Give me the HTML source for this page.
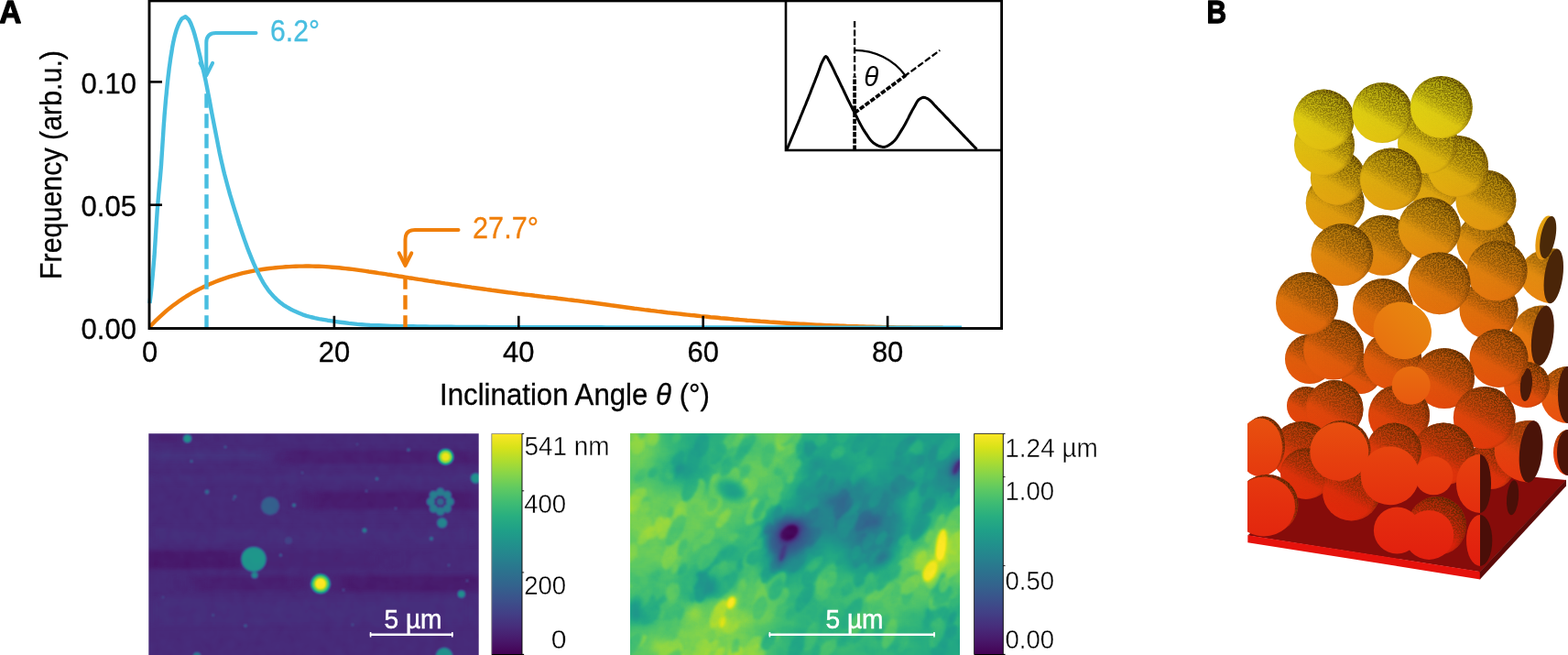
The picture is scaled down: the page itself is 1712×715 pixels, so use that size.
<!DOCTYPE html>
<html><head><meta charset="utf-8"><title>Figure</title>
<style>
html,body{margin:0;padding:0;background:#fff;}
body{width:1712px;height:715px;overflow:hidden;}
svg{display:block;font-family:"Liberation Sans", sans-serif;}
text.k{stroke:#000;stroke-width:0.3px;}
</style></head><body>
<svg width="1712" height="715" viewBox="0 0 1712 715">
<rect x="163.0" y="0.9" width="930.5999999999999" height="357.6" fill="#fff" stroke="none"/>
<path d="M163.5,356.8 L167.1,353.0 L170.7,349.3 L174.4,345.9 L178.0,342.6 L181.6,339.4 L185.2,336.4 L188.9,333.6 L192.5,330.9 L196.1,328.3 L199.7,325.9 L203.4,323.5 L207.0,321.3 L210.6,319.2 L214.2,317.3 L217.9,315.4 L221.5,313.6 L225.1,311.9 L228.7,310.3 L232.4,308.7 L236.0,307.3 L239.6,305.9 L243.2,304.6 L246.8,303.4 L250.5,302.2 L254.1,301.1 L257.7,300.1 L261.3,299.1 L265.0,298.2 L268.6,297.4 L272.2,296.6 L275.8,295.9 L279.5,295.2 L283.1,294.6 L286.7,294.0 L290.3,293.5 L294.0,293.0 L297.6,292.6 L301.2,292.2 L304.8,291.9 L308.5,291.6 L312.1,291.3 L315.7,291.1 L319.3,290.9 L322.9,290.7 L326.6,290.6 L330.2,290.6 L333.8,290.5 L337.4,290.5 L341.1,290.6 L344.7,290.7 L348.3,290.8 L351.9,290.9 L355.6,291.1 L359.2,291.4 L362.8,291.7 L366.4,292.0 L370.1,292.3 L373.7,292.7 L377.3,293.1 L380.9,293.5 L384.6,293.9 L388.2,294.4 L391.8,294.9 L395.4,295.4 L399.1,295.9 L402.7,296.5 L406.3,297.0 L409.9,297.5 L413.5,298.1 L417.2,298.6 L420.8,299.2 L424.4,299.8 L428.0,300.3 L431.7,300.9 L435.3,301.5 L438.9,302.0 L442.5,302.6 L446.2,303.2 L449.8,303.7 L453.4,304.3 L457.0,304.9 L460.7,305.4 L464.3,306.0 L467.9,306.6 L471.5,307.1 L475.2,307.7 L478.8,308.2 L482.4,308.8 L486.0,309.4 L489.6,309.9 L493.3,310.5 L496.9,311.0 L500.5,311.5 L504.1,312.1 L507.8,312.6 L511.4,313.1 L515.0,313.7 L518.6,314.2 L522.3,314.7 L525.9,315.2 L529.5,315.7 L533.1,316.3 L536.8,316.8 L540.4,317.2 L544.0,317.7 L547.6,318.2 L551.3,318.7 L554.9,319.2 L558.5,319.6 L562.1,320.1 L565.7,320.6 L569.4,321.0 L573.0,321.5 L576.6,321.9 L580.2,322.3 L583.9,322.8 L587.5,323.2 L591.1,323.6 L594.7,324.1 L598.4,324.5 L602.0,324.9 L605.6,325.3 L609.2,325.8 L612.9,326.2 L616.5,326.6 L620.1,327.1 L623.7,327.5 L627.4,328.0 L631.0,328.4 L634.6,328.9 L638.2,329.4 L641.8,329.8 L645.5,330.3 L649.1,330.8 L652.7,331.3 L656.3,331.8 L660.0,332.3 L663.6,332.8 L667.2,333.3 L670.8,333.7 L674.5,334.2 L678.1,334.7 L681.7,335.2 L685.3,335.7 L689.0,336.2 L692.6,336.7 L696.2,337.1 L699.8,337.6 L703.5,338.1 L707.1,338.5 L710.7,339.0 L714.3,339.4 L717.9,339.9 L721.6,340.3 L725.2,340.7 L728.8,341.2 L732.4,341.6 L736.1,342.0 L739.7,342.4 L743.3,342.8 L746.9,343.2 L750.6,343.6 L754.2,344.0 L757.8,344.3 L761.4,344.7 L765.1,345.1 L768.7,345.4 L772.3,345.8 L775.9,346.2 L779.6,346.5 L783.2,346.8 L786.8,347.2 L790.4,347.5 L794.0,347.8 L797.7,348.1 L801.3,348.5 L804.9,348.8 L808.5,349.1 L812.2,349.4 L815.8,349.7 L819.4,349.9 L823.0,350.2 L826.7,350.5 L830.3,350.8 L833.9,351.0 L837.5,351.3 L841.2,351.6 L844.8,351.8 L848.4,352.0 L852.0,352.3 L855.7,352.5 L859.3,352.7 L862.9,353.0 L866.5,353.2 L870.2,353.4 L873.8,353.6 L877.4,353.8 L881.0,354.0 L884.6,354.2 L888.3,354.4 L891.9,354.6 L895.5,354.7 L899.1,354.9 L902.8,355.1 L906.4,355.2 L910.0,355.4 L913.6,355.5 L917.3,355.7 L920.9,355.8 L924.5,356.0 L928.1,356.1 L931.8,356.2 L935.4,356.3 L939.0,356.4 L942.6,356.5 L946.3,356.7 L949.9,356.8 L953.5,356.8 L957.1,356.9 L960.7,357.0 L964.4,357.1 L968.0,357.2 L971.6,357.2 L975.2,357.3 L978.9,357.4 L982.5,357.4 L986.1,357.5 L989.7,357.5 L993.4,357.5 L997.0,357.6 L1000.6,357.6 L1004.2,357.6 L1007.9,357.6 L1011.5,357.6 L1015.1,357.6 L1018.7,357.6 L1022.4,357.6 L1026.0,357.6 L1029.6,357.6" fill="none" stroke="#F07F0A" stroke-width="4.4" stroke-linejoin="round"/>
<path d="M163.5,331.0 L164.0,326.4 L164.6,321.7 L165.1,317.0 L165.6,312.4 L166.0,307.7 L166.5,303.1 L166.9,298.4 L167.3,293.8 L167.7,289.1 L168.1,284.4 L168.5,279.8 L168.8,275.1 L169.1,270.4 L169.4,265.8 L169.7,261.1 L170.0,256.4 L170.3,251.7 L170.6,247.1 L170.9,242.4 L171.2,237.7 L171.5,233.1 L171.8,228.4 L172.2,223.7 L172.6,219.1 L173.0,214.4 L173.4,209.7 L173.8,205.1 L174.2,200.4 L174.7,195.7 L175.1,191.1 L175.5,186.4 L175.9,181.8 L176.2,177.1 L176.5,172.4 L176.8,167.7 L177.1,163.1 L177.4,158.4 L177.7,153.7 L178.0,149.1 L178.3,144.4 L178.6,139.7 L178.9,135.1 L179.3,130.4 L179.6,125.7 L180.0,121.1 L180.4,116.4 L180.8,111.7 L181.2,107.1 L181.7,102.4 L182.1,97.7 L182.6,93.1 L183.1,88.4 L183.6,83.8 L184.2,79.1 L184.7,74.5 L185.4,69.8 L186.0,65.2 L186.7,60.6 L187.5,56.0 L188.2,51.3 L189.1,46.7 L190.1,42.1 L191.2,37.6 L192.5,33.1 L194.1,28.7 L196.0,24.4 L198.5,20.4 L202.5,18.2 L206.0,21.3 L208.2,25.4 L209.9,29.8 L211.5,34.3 L212.8,38.7 L214.0,43.2 L215.2,47.8 L216.2,52.3 L217.3,56.9 L218.4,61.5 L219.4,66.0 L220.5,70.6 L221.6,75.1 L222.7,79.7 L223.7,84.3 L224.7,88.8 L225.6,93.4 L226.5,98.0 L227.4,102.6 L228.3,107.2 L229.2,111.8 L230.0,116.4 L230.8,121.0 L231.7,125.6 L232.6,130.2 L233.5,134.8 L234.4,139.4 L235.3,144.0 L236.2,148.6 L237.1,153.2 L238.0,157.8 L238.9,162.4 L239.8,167.0 L240.8,171.5 L241.8,176.1 L242.9,180.7 L243.9,185.2 L245.0,189.8 L246.2,194.3 L247.4,198.8 L248.6,203.3 L249.9,207.9 L251.1,212.4 L252.5,216.8 L253.8,221.3 L255.2,225.8 L256.6,230.3 L258.0,234.7 L259.4,239.2 L260.8,243.7 L262.3,248.1 L263.8,252.6 L265.3,257.0 L266.8,261.4 L268.4,265.8 L270.0,270.2 L271.7,274.6 L273.4,278.9 L275.2,283.3 L277.0,287.6 L278.9,291.8 L280.9,296.1 L283.0,300.3 L285.2,304.5 L287.5,308.6 L290.0,312.6 L292.6,316.3 L295.5,319.9 L298.7,323.5 L302.1,326.9 L305.7,330.0 L309.4,332.8 L313.2,335.2 L317.3,337.5 L321.5,339.6 L325.9,341.5 L330.3,343.3 L334.8,344.8 L339.2,346.0 L343.7,347.1 L348.3,348.1 L353.0,348.9 L357.6,349.7 L362.3,350.4 L366.9,351.1 L371.5,351.7 L376.2,352.3 L380.8,352.9 L385.5,353.4 L390.1,353.9 L394.8,354.3 L399.5,354.6 L404.1,354.9 L408.8,355.1 L413.5,355.3 L418.2,355.5 L422.8,355.7 L427.5,355.9 L432.2,356.0 L436.9,356.1 L441.6,356.2 L446.2,356.3 L450.9,356.3 L455.6,356.4 L460.3,356.5 L465.0,356.5 L469.6,356.6 L474.3,356.7 L479.0,356.7 L483.7,356.8 L488.4,356.8 L493.0,356.8 L497.7,356.9 L502.4,356.9 L507.1,356.9 L511.8,357.0 L516.4,357.0 L521.1,357.0 L525.8,357.0 L530.5,357.0 L535.2,357.1 L539.8,357.1 L544.5,357.1 L549.2,357.1 L553.9,357.1 L558.6,357.1 L563.2,357.2 L567.9,357.2 L572.6,357.2 L577.3,357.2 L582.0,357.2 L586.6,357.2 L591.3,357.2 L596.0,357.2 L600.7,357.2 L605.4,357.3 L610.0,357.3 L614.7,357.3 L619.4,357.3 L624.1,357.3 L628.8,357.3 L633.4,357.3 L638.1,357.3 L642.8,357.3 L647.5,357.3 L652.2,357.3 L656.8,357.3 L661.5,357.4 L666.2,357.4 L670.9,357.4 L675.6,357.4 L680.2,357.4 L684.9,357.4 L689.6,357.4 L694.3,357.4 L699.0,357.4 L703.7,357.4 L708.3,357.4 L713.0,357.4 L717.7,357.4 L722.4,357.4 L727.1,357.4 L731.7,357.4 L736.4,357.4 L741.1,357.4 L745.8,357.4 L750.5,357.4 L755.1,357.5 L759.8,357.5 L764.5,357.5 L769.2,357.5 L773.9,357.5 L778.5,357.5 L783.2,357.5 L787.9,357.5 L792.6,357.5 L797.3,357.5 L801.9,357.5 L806.6,357.5 L811.3,357.5 L816.0,357.5 L820.7,357.5 L825.3,357.5 L830.0,357.5 L834.7,357.5 L839.4,357.5 L844.1,357.5 L848.7,357.5 L853.4,357.5 L858.1,357.5 L862.8,357.5 L867.5,357.5 L872.1,357.5 L876.8,357.5 L881.5,357.5 L886.2,357.5 L890.9,357.6 L895.5,357.6 L900.2,357.6 L904.9,357.6 L909.6,357.6 L914.3,357.6 L918.9,357.6 L923.6,357.6 L928.3,357.6 L933.0,357.6 L937.7,357.6 L942.4,357.6 L947.0,357.6 L951.7,357.6 L956.4,357.6 L961.1,357.6 L965.8,357.6 L970.4,357.6 L975.1,357.6 L979.8,357.6 L984.5,357.6 L989.2,357.6 L993.8,357.6 L998.5,357.6 L1003.2,357.6 L1007.9,357.6 L1012.6,357.6 L1017.2,357.6 L1021.9,357.6 L1026.6,357.6 L1031.3,357.6 L1036.0,357.6 L1040.6,357.6 L1045.3,357.6 L1050.0,357.6" fill="none" stroke="#48BEE0" stroke-width="4.4" stroke-linejoin="round"/>
<path d="M225.5,358 V98" fill="none" stroke="#48BEE0" stroke-width="4.4" stroke-dasharray="15.5,6.5" stroke-dashoffset="1.7"/>
<path d="M442.5,358 V302" fill="none" stroke="#F07F0A" stroke-width="4.4" stroke-dasharray="15.5,6.5" stroke-dashoffset="1.7"/>
<path d="M279.5,36 H235.8 Q225.3,36 225.3,46.5 V81" fill="none" stroke="#48BEE0" stroke-width="4.0" stroke-linecap="round"/><path d="M218.5,68.8 L225.3,82.4 L232.10000000000002,68.8" fill="none" stroke="#48BEE0" stroke-width="4.0" stroke-linecap="round" stroke-linejoin="round"/>
<path d="M500.5,251 H453.0 Q442.5,251 442.5,261.5 V288.5" fill="none" stroke="#F07F0A" stroke-width="4.0" stroke-linecap="round"/><path d="M435.7,276.3 L442.5,289.9 L449.3,276.3" fill="none" stroke="#F07F0A" stroke-width="4.0" stroke-linecap="round" stroke-linejoin="round"/>
<text x="295" y="45" font-size="33" fill="#48BEE0" stroke="#48BEE0" stroke-width="0.3" textLength="54" lengthAdjust="spacingAndGlyphs">6.2°</text>
<text x="516" y="259.5" font-size="33" fill="#F07F0A" stroke="#F07F0A" stroke-width="0.3" textLength="72" lengthAdjust="spacingAndGlyphs">27.7°</text>
<text x="163.5" y="395.3" class="k" font-size="32" text-anchor="middle" textLength="17.2" lengthAdjust="spacingAndGlyphs">0</text>
<path d="M364.9,358 V344.8" stroke="#000" stroke-width="2.6"/>
<text x="364.9" y="395.3" class="k" font-size="32" text-anchor="middle" textLength="34.4" lengthAdjust="spacingAndGlyphs">20</text>
<path d="M566.3,358 V344.8" stroke="#000" stroke-width="2.6"/>
<text x="566.3" y="395.3" class="k" font-size="32" text-anchor="middle" textLength="34.4" lengthAdjust="spacingAndGlyphs">40</text>
<path d="M767.7,358 V344.8" stroke="#000" stroke-width="2.6"/>
<text x="767.7" y="395.3" class="k" font-size="32" text-anchor="middle" textLength="34.4" lengthAdjust="spacingAndGlyphs">60</text>
<path d="M969.1,358 V344.8" stroke="#000" stroke-width="2.6"/>
<text x="969.1" y="395.3" class="k" font-size="32" text-anchor="middle" textLength="34.4" lengthAdjust="spacingAndGlyphs">80</text>
<text x="149" y="370.3" class="k" font-size="32" text-anchor="end" textLength="60.5" lengthAdjust="spacingAndGlyphs">0.00</text>
<path d="M163.5,223.7 H177" stroke="#000" stroke-width="2.6"/>
<text x="149" y="236.0" class="k" font-size="32" text-anchor="end" textLength="60.5" lengthAdjust="spacingAndGlyphs">0.05</text>
<path d="M163.5,89.4 H177" stroke="#000" stroke-width="2.6"/>
<text x="149" y="101.7" class="k" font-size="32" text-anchor="end" textLength="60.5" lengthAdjust="spacingAndGlyphs">0.10</text>
<rect x="163.0" y="0.9" width="930.5999999999999" height="357.6" fill="none" stroke="#000" stroke-width="2.9"/>
<text class="k" x="627.5" y="442" font-size="32.5" text-anchor="middle" textLength="295" lengthAdjust="spacingAndGlyphs">Inclination Angle <tspan font-style="italic">θ</tspan> (°)</text>
<text class="k" transform="translate(66.8,180) rotate(-90)" font-size="32.5" text-anchor="middle" textLength="250" lengthAdjust="spacingAndGlyphs">Frequency (arb.u.)</text>
<text transform="translate(-0.7,24.6) scale(0.94,1)" font-size="35.5" font-weight="bold" stroke="#000" stroke-width="1.3" stroke-linejoin="round">A</text>
<text transform="translate(1317.6,24.6) scale(0.84,1)" font-size="35.5" font-weight="bold" stroke="#000" stroke-width="1.3" stroke-linejoin="round">B</text>
<rect x="858" y="1" width="235.5" height="163" fill="#fff" stroke="#000" stroke-width="2.6"/>
<path d="M859.0,163.6 L860.0,161.2 L861.0,158.9 L862.0,156.5 L863.0,154.1 L864.0,151.7 L865.0,149.3 L866.0,147.0 L867.0,144.6 L868.0,142.2 L869.0,139.8 L870.0,137.4 L871.0,135.1 L872.0,132.7 L873.0,130.3 L873.9,127.9 L874.9,125.5 L875.9,123.1 L876.9,120.7 L877.8,118.3 L878.8,116.0 L879.8,113.6 L880.7,111.2 L881.7,108.8 L882.7,106.4 L883.6,104.0 L884.6,101.6 L885.5,99.2 L886.4,96.8 L887.4,94.4 L888.3,92.0 L889.3,89.6 L890.2,87.2 L891.1,84.8 L892.1,82.4 L893.0,80.0 L893.9,77.5 L894.8,75.1 L895.6,72.6 L896.5,70.2 L897.6,67.9 L898.8,65.4 L900.3,62.7 L901.8,61.5 L903.3,62.9 L904.7,65.6 L906.1,68.0 L907.3,70.3 L908.5,72.6 L909.6,74.9 L910.7,77.2 L911.8,79.6 L912.9,81.9 L914.1,84.2 L915.2,86.5 L916.3,88.9 L917.4,91.2 L918.5,93.5 L919.7,95.8 L920.8,98.2 L921.9,100.5 L923.0,102.8 L924.1,105.2 L925.2,107.5 L926.3,109.8 L927.5,112.1 L928.6,114.4 L929.8,116.7 L930.9,119.0 L932.1,121.3 L933.3,123.6 L934.5,125.9 L935.6,128.2 L936.8,130.6 L938.0,132.9 L939.2,135.2 L940.4,137.4 L941.7,139.7 L943.0,141.9 L944.4,144.1 L945.8,146.2 L947.3,148.4 L948.8,150.7 L950.4,152.8 L952.2,154.7 L954.0,156.3 L956.0,157.6 L958.4,158.8 L960.9,159.8 L963.5,160.4 L965.9,160.4 L968.4,159.6 L970.8,158.2 L973.0,156.7 L974.9,155.3 L976.7,153.5 L978.3,151.6 L979.8,149.4 L981.2,147.2 L982.6,144.9 L984.0,142.6 L985.4,140.4 L986.7,138.2 L988.0,135.9 L989.2,133.7 L990.4,131.4 L991.6,129.1 L992.7,126.8 L993.9,124.5 L995.1,122.2 L996.3,119.9 L997.6,117.7 L998.9,115.4 L1000.2,113.0 L1001.5,110.7 L1003.1,108.8 L1005.2,107.4 L1007.7,106.3 L1010.1,106.5 L1012.5,107.6 L1014.7,109.0 L1016.6,110.6 L1018.4,112.5 L1020.1,114.5 L1021.9,116.4 L1023.7,118.3 L1025.5,120.1 L1027.3,122.0 L1029.1,123.8 L1030.9,125.7 L1032.6,127.6 L1034.4,129.4 L1036.2,131.3 L1038.0,133.2 L1039.8,135.0 L1041.5,136.9 L1043.3,138.8 L1045.1,140.6 L1046.9,142.5 L1048.7,144.4 L1050.4,146.2 L1052.2,148.1 L1054.0,150.0 L1055.8,151.8 L1057.6,153.7 L1059.4,155.5 L1061.1,157.4 L1062.9,159.3 L1064.7,161.1 L1066.5,163.0" fill="none" stroke="#000" stroke-width="3" stroke-linejoin="round"/>
<path d="M933.1,84 V23" stroke="#000" stroke-width="2.3" stroke-dasharray="7,2.5" stroke-dashoffset="3" fill="none"/>
<path d="M933.1,164 V83.5" stroke="#000" stroke-width="3.7" stroke-dasharray="5.5,1.7" fill="none"/>
<path d="M988.5,82.5 L1026.3,54.9" stroke="#000" stroke-width="2.3" stroke-dasharray="7,2.5" stroke-dashoffset="2" fill="none"/>
<path d="M933.1,123.3 L988.9,82.2" stroke="#000" stroke-width="3.7" stroke-dasharray="5.5,1.7" fill="none"/>
<path d="M933.1,54.9 A68.4,68.4 0 0 1 988.5,82.5" stroke="#000" stroke-width="2.2" fill="none"/>
<text x="951.3" y="94" font-size="29.5" font-style="italic" text-anchor="middle">θ</text>
<defs>
<filter id="vf1" filterUnits="userSpaceOnUse" x="132.3" y="443.3" width="420.40000000000003" height="302.7" color-interpolation-filters="sRGB"><feOffset in="SourceGraphic" dx="0" dy="0" result="b"/><feTurbulence type="fractalNoise" baseFrequency="0.08" numOctaves="2" seed="3" result="t"/><feColorMatrix in="t" type="matrix" values="1 0 0 0 0  1 0 0 0 0  1 0 0 0 0  0 0 0 0 1" result="n"/><feComposite in="b" in2="n" operator="arithmetic" k1="0" k2="1" k3="0.03" k4="-0.015" result="h"/><feComponentTransfer in="h"><feFuncR type="table" tableValues="0.267 0.277 0.282 0.283 0.279 0.271 0.259 0.245 0.230 0.214 0.199 0.186 0.173 0.161 0.149 0.138 0.128 0.121 0.121 0.132 0.158 0.197 0.246 0.304 0.369 0.440 0.516 0.596 0.678 0.762 0.846 0.926 0.993"/><feFuncG type="table" tableValues="0.005 0.050 0.095 0.136 0.175 0.214 0.252 0.288 0.322 0.356 0.388 0.419 0.449 0.479 0.508 0.537 0.567 0.596 0.626 0.655 0.684 0.712 0.739 0.765 0.789 0.811 0.831 0.849 0.864 0.876 0.887 0.897 0.906"/><feFuncB type="table" tableValues="0.329 0.376 0.417 0.453 0.483 0.507 0.525 0.537 0.546 0.551 0.555 0.557 0.558 0.558 0.557 0.555 0.551 0.544 0.533 0.520 0.502 0.479 0.452 0.420 0.383 0.341 0.294 0.243 0.190 0.137 0.100 0.104 0.144"/></feComponentTransfer></filter>
<filter id="bl1" x="-50%" y="-50%" width="200%" height="200%" color-interpolation-filters="sRGB"><feGaussianBlur stdDeviation="12 2.6"/></filter>
<filter id="bl1s" x="-50%" y="-50%" width="200%" height="200%" color-interpolation-filters="sRGB"><feGaussianBlur stdDeviation="1.1"/></filter>
<clipPath id="c1"><rect x="162.3" y="473.3" width="360.40000000000003" height="242.7"/></clipPath>
<filter id="vf2" filterUnits="userSpaceOnUse" x="658.4" y="443.3" width="418.9" height="302.7" color-interpolation-filters="sRGB"><feOffset in="SourceGraphic" dx="0" dy="0" result="b"/><feTurbulence type="fractalNoise" baseFrequency="0.05 0.06" numOctaves="3" seed="7" result="t"/><feColorMatrix in="t" type="matrix" values="1 0 0 0 0  1 0 0 0 0  1 0 0 0 0  0 0 0 0 1" result="n"/><feComposite in="b" in2="n" operator="arithmetic" k1="0" k2="1" k3="0.07" k4="-0.035" result="h"/><feComponentTransfer in="h"><feFuncR type="table" tableValues="0.267 0.277 0.282 0.283 0.279 0.271 0.259 0.245 0.230 0.214 0.199 0.186 0.173 0.161 0.149 0.138 0.128 0.121 0.121 0.132 0.158 0.197 0.246 0.304 0.369 0.440 0.516 0.596 0.678 0.762 0.846 0.926 0.993"/><feFuncG type="table" tableValues="0.005 0.050 0.095 0.136 0.175 0.214 0.252 0.288 0.322 0.356 0.388 0.419 0.449 0.479 0.508 0.537 0.567 0.596 0.626 0.655 0.684 0.712 0.739 0.765 0.789 0.811 0.831 0.849 0.864 0.876 0.887 0.897 0.906"/><feFuncB type="table" tableValues="0.329 0.376 0.417 0.453 0.483 0.507 0.525 0.537 0.546 0.551 0.555 0.557 0.558 0.558 0.557 0.555 0.551 0.544 0.533 0.520 0.502 0.479 0.452 0.420 0.383 0.341 0.294 0.243 0.190 0.137 0.100 0.104 0.144"/></feComponentTransfer></filter>
<filter id="bl2" filterUnits="userSpaceOnUse" x="620" y="400" width="500" height="400" color-interpolation-filters="sRGB"><feGaussianBlur stdDeviation="10"/></filter>
<filter id="bl2s" x="-50%" y="-50%" width="200%" height="200%" color-interpolation-filters="sRGB"><feGaussianBlur stdDeviation="1.8"/></filter>
<filter id="bl2m" x="-50%" y="-50%" width="200%" height="200%" color-interpolation-filters="sRGB"><feGaussianBlur stdDeviation="4"/></filter>
<clipPath id="c2"><rect x="688.4" y="473.3" width="358.9" height="242.7"/></clipPath>
</defs>
<g clip-path="url(#c1)"><g filter="url(#vf1)">
<rect x="132.3" y="443.3" width="420.40000000000003" height="302.7" fill="#1e1e1e"/>
<g filter="url(#bl1)">
<rect x="300" y="491.5" width="230" height="15" fill="#161616"/>
<rect x="330" y="536.0" width="200" height="20" fill="#141414"/>
<rect x="150" y="601.0" width="118" height="20" fill="#111111"/>
<rect x="268" y="602.0" width="152" height="18" fill="#1a1a1a"/>
<rect x="210" y="629.0" width="125" height="16" fill="#161616"/>
<rect x="365" y="628.0" width="165" height="18" fill="#131313"/>
<rect x="150" y="474.0" width="60" height="8" fill="#171717"/>
<rect x="150" y="492.0" width="150" height="10" fill="#252525"/>
<rect x="150" y="518.0" width="380" height="8" fill="#222222"/>
<rect x="150" y="577.0" width="380" height="16" fill="#212121"/>
<rect x="150" y="653.0" width="380" height="30" fill="#212121"/>
</g>
<g filter="url(#bl1s)">
<circle cx="486.5" cy="498.8" r="8.5" fill="#c7c7c7"/>
<circle cx="486.5" cy="498.8" r="5.0" fill="#f7f7f7"/>
<circle cx="295" cy="552.3" r="10.0" fill="#4c4c4c"/>
<circle cx="277" cy="610.4" r="13.5" fill="#858585"/>
<circle cx="350" cy="637.3" r="10.5" fill="#b8b8b8"/>
<circle cx="350" cy="637.3" r="6.5" fill="#ffffff"/>
<circle cx="204.6" cy="478.8" r="4.5" fill="#808080"/>
<circle cx="519.5" cy="522" r="5.5" fill="#808080"/>
<circle cx="482.7" cy="570.8" r="5.5" fill="#737373"/>
<circle cx="503.8" cy="648.5" r="4.0" fill="#808080"/>
<circle cx="485" cy="716" r="9.0" fill="#808080"/>
<circle cx="278" cy="627.7" r="3.5" fill="#737373"/>
<circle cx="321" cy="551.5" r="2.0" fill="#666666"/>
<circle cx="398" cy="579" r="2.4" fill="#737373"/>
<circle cx="471" cy="588" r="2.0" fill="#666666"/>
<circle cx="411.5" cy="522.7" r="1.6" fill="#666666"/>
<circle cx="446" cy="491" r="1.6" fill="#666666"/>
<circle cx="226" cy="537" r="2.4" fill="#595959"/>
<circle cx="256.5" cy="542" r="1.6" fill="#595959"/>
<circle cx="246" cy="488" r="1.28" fill="#595959"/>
<circle cx="209" cy="503.5" r="1.6" fill="#595959"/>
<circle cx="306.5" cy="606" r="1.6" fill="#595959"/>
<circle cx="268" cy="683" r="1.6" fill="#595959"/>
<circle cx="232.7" cy="671.5" r="1.28" fill="#4c4c4c"/>
<circle cx="215" cy="716" r="4.0" fill="#666666"/>
<circle cx="255" cy="545" r="1.28" fill="#4c4c4c"/>
<circle cx="315" cy="590" r="4.0" fill="#333333"/>
<circle cx="330" cy="516" r="1.2" fill="#4c4c4c"/>
<circle cx="390" cy="485" r="1.2" fill="#404040"/>
<circle cx="400" cy="536" r="1.2" fill="#4c4c4c"/>
<circle cx="432" cy="555" r="1.2" fill="#4c4c4c"/>
<circle cx="490" cy="617" r="1.2" fill="#4c4c4c"/>
<circle cx="510" cy="634" r="1.2" fill="#4c4c4c"/>
<circle cx="178" cy="652" r="1.2" fill="#404040"/>
<circle cx="385" cy="682" r="1.2" fill="#4c4c4c"/>
<circle cx="375" cy="644" r="1.2" fill="#4c4c4c"/>
<circle cx="491.3" cy="547.7" r="4.6" fill="#6b6b6b"/>
<circle cx="488.2" cy="555.1" r="4.6" fill="#6b6b6b"/>
<circle cx="480.8" cy="558.2" r="4.6" fill="#6b6b6b"/>
<circle cx="473.4" cy="555.1" r="4.6" fill="#6b6b6b"/>
<circle cx="470.3" cy="547.7" r="4.6" fill="#6b6b6b"/>
<circle cx="473.4" cy="540.3" r="4.6" fill="#6b6b6b"/>
<circle cx="480.8" cy="537.2" r="4.6" fill="#6b6b6b"/>
<circle cx="488.2" cy="540.3" r="4.6" fill="#6b6b6b"/>
<circle cx="480.8" cy="547.7" r="4" fill="#545454"/>
</g>
</g></g>
<path d="M403.8,692.7 H494.6" stroke="#fff" stroke-width="2.6" fill="none"/><path d="M404.6,689.9000000000001 V695.5 M493.8,689.9000000000001 V695.5" stroke="#fff" stroke-width="1.6" fill="none"/><text x="451" y="686.2" font-size="30" fill="#fff" stroke="#fff" stroke-width="0.5" text-anchor="middle" textLength="63" lengthAdjust="spacingAndGlyphs">5 µm</text>
<linearGradient id="cb1" x1="0" y1="0" x2="0" y2="1"><stop offset="0.0000" stop-color="#fde725"/><stop offset="0.0625" stop-color="#d8e219"/><stop offset="0.1250" stop-color="#addc30"/><stop offset="0.1875" stop-color="#84d44b"/><stop offset="0.2500" stop-color="#5ec962"/><stop offset="0.3125" stop-color="#3fbc73"/><stop offset="0.3750" stop-color="#28ae80"/><stop offset="0.4375" stop-color="#1fa088"/><stop offset="0.5000" stop-color="#21918c"/><stop offset="0.5625" stop-color="#26828e"/><stop offset="0.6250" stop-color="#2c728e"/><stop offset="0.6875" stop-color="#33638d"/><stop offset="0.7500" stop-color="#3b528b"/><stop offset="0.8125" stop-color="#424086"/><stop offset="0.8750" stop-color="#472d7b"/><stop offset="0.9375" stop-color="#48186a"/><stop offset="1.0000" stop-color="#440154"/></linearGradient><rect x="536.8" y="473.4" width="33.2" height="240.89999999999998" fill="url(#cb1)"/><path d="M536.8,714.3 V473.4 H570.0" fill="none" stroke="#888" stroke-width="0.9"/><path d="M570.0,473.4 V714.3" fill="none" stroke="#000" stroke-width="0.9"/><path d="M536.8,714.5 H572.0" fill="none" stroke="#000" stroke-width="1.2"/>
<path d="M570,473.4 h2.2" stroke="#000" stroke-width="0.9"/>
<path d="M570,535.8 h2.2" stroke="#000" stroke-width="0.9"/>
<path d="M570,624.9 h2.2" stroke="#000" stroke-width="0.9"/>
<path d="M570,714.3 h2.2" stroke="#000" stroke-width="0.9"/>
<text x="572.6" y="496.6" font-size="30.2" text-anchor="start" stroke="#fff" stroke-width="0.4" textLength="93" lengthAdjust="spacingAndGlyphs">541 nm</text>
<text x="572.2" y="559.6" font-size="30.2" text-anchor="start" stroke="#fff" stroke-width="0.4" textLength="46" lengthAdjust="spacingAndGlyphs">400</text>
<text x="572.2" y="648.8" font-size="30.2" text-anchor="start" stroke="#fff" stroke-width="0.4" textLength="46" lengthAdjust="spacingAndGlyphs">200</text>
<text x="618.6" y="708.2" font-size="30.2" text-anchor="end" stroke="#fff" stroke-width="0.4">0</text>
<g clip-path="url(#c2)"><g filter="url(#vf2)">
<rect x="658.4" y="443.3" width="418.9" height="302.7" fill="#999999"/>
<g filter="url(#bl2)">
<rect x="648.4" y="433.3" width="70.4" height="70.8" fill="#cccccc"/>
<rect x="717.8" y="433.3" width="30.9" height="70.8" fill="#a8a8a8"/>
<rect x="747.7" y="433.3" width="30.9" height="70.8" fill="#999999"/>
<rect x="777.6" y="433.3" width="30.9" height="70.8" fill="#a8a8a8"/>
<rect x="807.5" y="433.3" width="30.9" height="70.8" fill="#b8b8b8"/>
<rect x="837.4" y="433.3" width="30.9" height="70.8" fill="#c2c2c2"/>
<rect x="867.3" y="433.3" width="30.9" height="70.8" fill="#999999"/>
<rect x="897.3" y="433.3" width="30.9" height="70.8" fill="#949494"/>
<rect x="927.2" y="433.3" width="30.9" height="70.8" fill="#9e9e9e"/>
<rect x="957.1" y="433.3" width="30.9" height="70.8" fill="#949494"/>
<rect x="987.0" y="433.3" width="30.9" height="70.8" fill="#8f8f8f"/>
<rect x="1016.9" y="433.3" width="70.4" height="70.8" fill="#8f8f8f"/>
<rect x="648.4" y="503.1" width="70.4" height="31.3" fill="#bdbdbd"/>
<rect x="717.8" y="503.1" width="30.9" height="31.3" fill="#9e9e9e"/>
<rect x="747.7" y="503.1" width="30.9" height="31.3" fill="#949494"/>
<rect x="777.6" y="503.1" width="30.9" height="31.3" fill="#b8b8b8"/>
<rect x="807.5" y="503.1" width="30.9" height="31.3" fill="#c2c2c2"/>
<rect x="837.4" y="503.1" width="30.9" height="31.3" fill="#bdbdbd"/>
<rect x="867.3" y="503.1" width="30.9" height="31.3" fill="#949494"/>
<rect x="897.3" y="503.1" width="30.9" height="31.3" fill="#8a8a8a"/>
<rect x="927.2" y="503.1" width="30.9" height="31.3" fill="#949494"/>
<rect x="957.1" y="503.1" width="30.9" height="31.3" fill="#8a8a8a"/>
<rect x="987.0" y="503.1" width="30.9" height="31.3" fill="#8a8a8a"/>
<rect x="1016.9" y="503.1" width="70.4" height="31.3" fill="#737373"/>
<rect x="648.4" y="533.5" width="70.4" height="31.3" fill="#c2c2c2"/>
<rect x="717.8" y="533.5" width="30.9" height="31.3" fill="#c7c7c7"/>
<rect x="747.7" y="533.5" width="30.9" height="31.3" fill="#c7c7c7"/>
<rect x="777.6" y="533.5" width="30.9" height="31.3" fill="#c2c2c2"/>
<rect x="807.5" y="533.5" width="30.9" height="31.3" fill="#bdbdbd"/>
<rect x="837.4" y="533.5" width="30.9" height="31.3" fill="#9e9e9e"/>
<rect x="867.3" y="533.5" width="30.9" height="31.3" fill="#808080"/>
<rect x="897.3" y="533.5" width="30.9" height="31.3" fill="#666666"/>
<rect x="927.2" y="533.5" width="30.9" height="31.3" fill="#757575"/>
<rect x="957.1" y="533.5" width="30.9" height="31.3" fill="#707070"/>
<rect x="987.0" y="533.5" width="30.9" height="31.3" fill="#8f8f8f"/>
<rect x="1016.9" y="533.5" width="70.4" height="31.3" fill="#949494"/>
<rect x="648.4" y="563.8" width="70.4" height="31.3" fill="#c7c7c7"/>
<rect x="717.8" y="563.8" width="30.9" height="31.3" fill="#c7c7c7"/>
<rect x="747.7" y="563.8" width="30.9" height="31.3" fill="#c2c2c2"/>
<rect x="777.6" y="563.8" width="30.9" height="31.3" fill="#b8b8b8"/>
<rect x="807.5" y="563.8" width="30.9" height="31.3" fill="#a8a8a8"/>
<rect x="837.4" y="563.8" width="30.9" height="31.3" fill="#575757"/>
<rect x="867.3" y="563.8" width="30.9" height="31.3" fill="#6b6b6b"/>
<rect x="897.3" y="563.8" width="30.9" height="31.3" fill="#7a7a7a"/>
<rect x="927.2" y="563.8" width="30.9" height="31.3" fill="#5c5c5c"/>
<rect x="957.1" y="563.8" width="30.9" height="31.3" fill="#707070"/>
<rect x="987.0" y="563.8" width="30.9" height="31.3" fill="#9e9e9e"/>
<rect x="1016.9" y="563.8" width="70.4" height="31.3" fill="#c7c7c7"/>
<rect x="648.4" y="594.1" width="70.4" height="31.3" fill="#c2c2c2"/>
<rect x="717.8" y="594.1" width="30.9" height="31.3" fill="#c2c2c2"/>
<rect x="747.7" y="594.1" width="30.9" height="31.3" fill="#adadad"/>
<rect x="777.6" y="594.1" width="30.9" height="31.3" fill="#a3a3a3"/>
<rect x="807.5" y="594.1" width="30.9" height="31.3" fill="#a8a8a8"/>
<rect x="837.4" y="594.1" width="30.9" height="31.3" fill="#6b6b6b"/>
<rect x="867.3" y="594.1" width="30.9" height="31.3" fill="#8f8f8f"/>
<rect x="897.3" y="594.1" width="30.9" height="31.3" fill="#9e9e9e"/>
<rect x="927.2" y="594.1" width="30.9" height="31.3" fill="#707070"/>
<rect x="957.1" y="594.1" width="30.9" height="31.3" fill="#949494"/>
<rect x="987.0" y="594.1" width="30.9" height="31.3" fill="#c7c7c7"/>
<rect x="1016.9" y="594.1" width="70.4" height="31.3" fill="#d6d6d6"/>
<rect x="648.4" y="624.5" width="70.4" height="31.3" fill="#b2b2b2"/>
<rect x="717.8" y="624.5" width="30.9" height="31.3" fill="#adadad"/>
<rect x="747.7" y="624.5" width="30.9" height="31.3" fill="#949494"/>
<rect x="777.6" y="624.5" width="30.9" height="31.3" fill="#a3a3a3"/>
<rect x="807.5" y="624.5" width="30.9" height="31.3" fill="#bdbdbd"/>
<rect x="837.4" y="624.5" width="30.9" height="31.3" fill="#a3a3a3"/>
<rect x="867.3" y="624.5" width="30.9" height="31.3" fill="#a8a8a8"/>
<rect x="897.3" y="624.5" width="30.9" height="31.3" fill="#adadad"/>
<rect x="927.2" y="624.5" width="30.9" height="31.3" fill="#b2b2b2"/>
<rect x="957.1" y="624.5" width="30.9" height="31.3" fill="#bdbdbd"/>
<rect x="987.0" y="624.5" width="30.9" height="31.3" fill="#c2c2c2"/>
<rect x="1016.9" y="624.5" width="70.4" height="31.3" fill="#b2b2b2"/>
<rect x="648.4" y="654.8" width="70.4" height="31.3" fill="#a3a3a3"/>
<rect x="717.8" y="654.8" width="30.9" height="31.3" fill="#b8b8b8"/>
<rect x="747.7" y="654.8" width="30.9" height="31.3" fill="#c7c7c7"/>
<rect x="777.6" y="654.8" width="30.9" height="31.3" fill="#d1d1d1"/>
<rect x="807.5" y="654.8" width="30.9" height="31.3" fill="#c7c7c7"/>
<rect x="837.4" y="654.8" width="30.9" height="31.3" fill="#b2b2b2"/>
<rect x="867.3" y="654.8" width="30.9" height="31.3" fill="#a3a3a3"/>
<rect x="897.3" y="654.8" width="30.9" height="31.3" fill="#a8a8a8"/>
<rect x="927.2" y="654.8" width="30.9" height="31.3" fill="#b2b2b2"/>
<rect x="957.1" y="654.8" width="30.9" height="31.3" fill="#b8b8b8"/>
<rect x="987.0" y="654.8" width="30.9" height="31.3" fill="#adadad"/>
<rect x="1016.9" y="654.8" width="70.4" height="31.3" fill="#9e9e9e"/>
<rect x="648.4" y="685.2" width="70.4" height="70.8" fill="#bdbdbd"/>
<rect x="717.8" y="685.2" width="30.9" height="70.8" fill="#c7c7c7"/>
<rect x="747.7" y="685.2" width="30.9" height="70.8" fill="#cccccc"/>
<rect x="777.6" y="685.2" width="30.9" height="70.8" fill="#cccccc"/>
<rect x="807.5" y="685.2" width="30.9" height="70.8" fill="#c2c2c2"/>
<rect x="837.4" y="685.2" width="30.9" height="70.8" fill="#a8a8a8"/>
<rect x="867.3" y="685.2" width="30.9" height="70.8" fill="#a3a3a3"/>
<rect x="897.3" y="685.2" width="30.9" height="70.8" fill="#a8a8a8"/>
<rect x="927.2" y="685.2" width="30.9" height="70.8" fill="#a8a8a8"/>
<rect x="957.1" y="685.2" width="30.9" height="70.8" fill="#a3a3a3"/>
<rect x="987.0" y="685.2" width="30.9" height="70.8" fill="#9e9e9e"/>
<rect x="1016.9" y="685.2" width="70.4" height="70.8" fill="#999999"/>
</g>
<g filter="url(#bl2s)">
<ellipse cx="919.3" cy="474.6" rx="4.1" ry="6.3" transform="rotate(40 919.3 474.6)" fill="#9f9f9f" opacity="0.8"/>
<ellipse cx="884.6" cy="617.5" rx="4.5" ry="9.0" transform="rotate(11 884.6 617.5)" fill="#909090" opacity="0.8"/>
<ellipse cx="756.8" cy="632.5" rx="6.2" ry="14.6" transform="rotate(10 756.8 632.5)" fill="#a8a8a8" opacity="0.8"/>
<ellipse cx="980.7" cy="644.7" rx="4.5" ry="10.4" transform="rotate(14 980.7 644.7)" fill="#c6c6c6" opacity="0.8"/>
<ellipse cx="823.6" cy="559.0" rx="7.1" ry="16.2" transform="rotate(31 823.6 559.0)" fill="#c4c4c4" opacity="0.8"/>
<ellipse cx="1042.4" cy="564.0" rx="6.3" ry="15.3" transform="rotate(33 1042.4 564.0)" fill="#c0c0c0" opacity="0.8"/>
<ellipse cx="943.3" cy="479.9" rx="7.9" ry="19.2" transform="rotate(45 943.3 479.9)" fill="#8c8c8c" opacity="0.8"/>
<ellipse cx="823.6" cy="582.9" rx="5.1" ry="11.2" transform="rotate(38 823.6 582.9)" fill="#aeaeae" opacity="0.8"/>
<ellipse cx="935.6" cy="486.3" rx="4.6" ry="9.0" transform="rotate(21 935.6 486.3)" fill="#8e8e8e" opacity="0.8"/>
<ellipse cx="1024.8" cy="642.2" rx="7.3" ry="17.0" transform="rotate(19 1024.8 642.2)" fill="#a5a5a5" opacity="0.8"/>
<ellipse cx="695.2" cy="548.0" rx="7.6" ry="15.8" transform="rotate(39 695.2 548.0)" fill="#c8c8c8" opacity="0.8"/>
<ellipse cx="761.8" cy="594.5" rx="4.1" ry="9.5" transform="rotate(32 761.8 594.5)" fill="#c0c0c0" opacity="0.8"/>
<ellipse cx="959.0" cy="576.6" rx="8.0" ry="12.5" transform="rotate(30 959.0 576.6)" fill="#737373" opacity="0.8"/>
<ellipse cx="962.2" cy="685.9" rx="7.1" ry="13.5" transform="rotate(13 962.2 685.9)" fill="#9e9e9e" opacity="0.8"/>
<ellipse cx="824.2" cy="720.0" rx="7.4" ry="10.4" transform="rotate(39 824.2 720.0)" fill="#d6d6d6" opacity="0.8"/>
<ellipse cx="934.9" cy="604.0" rx="5.0" ry="8.8" transform="rotate(16 934.9 604.0)" fill="#898989" opacity="0.8"/>
<ellipse cx="684.6" cy="650.8" rx="6.9" ry="13.9" transform="rotate(14 684.6 650.8)" fill="#c2c2c2" opacity="0.8"/>
<ellipse cx="914.1" cy="681.0" rx="6.9" ry="14.2" transform="rotate(41 914.1 681.0)" fill="#a1a1a1" opacity="0.8"/>
<ellipse cx="879.0" cy="468.4" rx="4.0" ry="7.3" transform="rotate(49 879.0 468.4)" fill="#ababab" opacity="0.8"/>
<ellipse cx="981.0" cy="528.8" rx="7.8" ry="11.7" transform="rotate(29 981.0 528.8)" fill="#717171" opacity="0.8"/>
<ellipse cx="708.9" cy="660.5" rx="5.6" ry="11.6" transform="rotate(21 708.9 660.5)" fill="#a3a3a3" opacity="0.8"/>
<ellipse cx="1005.2" cy="575.2" rx="6.9" ry="15.4" transform="rotate(39 1005.2 575.2)" fill="#8b8b8b" opacity="0.8"/>
<ellipse cx="830.6" cy="638.0" rx="5.8" ry="9.0" transform="rotate(19 830.6 638.0)" fill="#c1c1c1" opacity="0.8"/>
<ellipse cx="808.1" cy="617.0" rx="3.5" ry="7.9" transform="rotate(12 808.1 617.0)" fill="#999999" opacity="0.8"/>
<ellipse cx="708.3" cy="476.2" rx="4.6" ry="10.1" transform="rotate(19 708.3 476.2)" fill="#cccccc" opacity="0.8"/>
<ellipse cx="732.2" cy="704.7" rx="5.6" ry="10.6" transform="rotate(14 732.2 704.7)" fill="#d0d0d0" opacity="0.8"/>
<ellipse cx="926.5" cy="557.8" rx="6.8" ry="15.0" transform="rotate(49 926.5 557.8)" fill="#7a7a7a" opacity="0.8"/>
<ellipse cx="719.7" cy="570.0" rx="4.0" ry="6.5" transform="rotate(31 719.7 570.0)" fill="#d9d9d9" opacity="0.8"/>
<ellipse cx="735.1" cy="514.7" rx="7.7" ry="14.8" transform="rotate(44 735.1 514.7)" fill="#a8a8a8" opacity="0.8"/>
<ellipse cx="886.4" cy="481.1" rx="7.7" ry="18.5" transform="rotate(17 886.4 481.1)" fill="#838383" opacity="0.8"/>
<ellipse cx="862.6" cy="522.3" rx="4.2" ry="5.9" transform="rotate(26 862.6 522.3)" fill="#c0c0c0" opacity="0.8"/>
<ellipse cx="1025.2" cy="666.7" rx="7.8" ry="20.3" transform="rotate(32 1025.2 666.7)" fill="#b0b0b0" opacity="0.8"/>
<ellipse cx="948.4" cy="507.4" rx="3.8" ry="8.6" transform="rotate(12 948.4 507.4)" fill="#9e9e9e" opacity="0.8"/>
<ellipse cx="799.1" cy="481.0" rx="7.3" ry="11.7" transform="rotate(48 799.1 481.0)" fill="#b9b9b9" opacity="0.8"/>
<ellipse cx="713.0" cy="515.3" rx="4.6" ry="7.0" transform="rotate(46 713.0 515.3)" fill="#a4a4a4" opacity="0.8"/>
<ellipse cx="774.2" cy="618.5" rx="6.1" ry="12.4" transform="rotate(47 774.2 618.5)" fill="#999999" opacity="0.8"/>
<ellipse cx="758.8" cy="649.3" rx="4.1" ry="8.9" transform="rotate(28 758.8 649.3)" fill="#9c9c9c" opacity="0.8"/>
<ellipse cx="1026.1" cy="704.8" rx="8.0" ry="20.7" transform="rotate(13 1026.1 704.8)" fill="#8d8d8d" opacity="0.8"/>
<ellipse cx="762.0" cy="535.3" rx="7.5" ry="13.7" transform="rotate(16 762.0 535.3)" fill="#c4c4c4" opacity="0.8"/>
<ellipse cx="991.0" cy="646.1" rx="6.0" ry="15.1" transform="rotate(14 991.0 646.1)" fill="#adadad" opacity="0.8"/>
<ellipse cx="1007.3" cy="535.1" rx="4.2" ry="7.3" transform="rotate(18 1007.3 535.1)" fill="#7a7a7a" opacity="0.8"/>
<ellipse cx="809.9" cy="642.0" rx="4.6" ry="11.5" transform="rotate(12 809.9 642.0)" fill="#c1c1c1" opacity="0.8"/>
<ellipse cx="917.4" cy="677.9" rx="7.0" ry="15.1" transform="rotate(20 917.4 677.9)" fill="#a4a4a4" opacity="0.8"/>
<ellipse cx="956.8" cy="607.7" rx="4.0" ry="10.1" transform="rotate(38 956.8 607.7)" fill="#8e8e8e" opacity="0.8"/>
<ellipse cx="738.4" cy="477.4" rx="4.2" ry="6.5" transform="rotate(22 738.4 477.4)" fill="#b4b4b4" opacity="0.8"/>
<ellipse cx="1015.0" cy="669.5" rx="4.4" ry="7.6" transform="rotate(14 1015.0 669.5)" fill="#949494" opacity="0.8"/>
<ellipse cx="971.2" cy="691.7" rx="6.9" ry="17.3" transform="rotate(19 971.2 691.7)" fill="#bfbfbf" opacity="0.8"/>
<ellipse cx="743.3" cy="670.4" rx="3.6" ry="8.2" transform="rotate(23 743.3 670.4)" fill="#a9a9a9" opacity="0.8"/>
<ellipse cx="1026.8" cy="671.0" rx="7.0" ry="10.8" transform="rotate(45 1026.8 671.0)" fill="#979797" opacity="0.8"/>
<ellipse cx="1000.1" cy="524.5" rx="7.2" ry="17.6" transform="rotate(19 1000.1 524.5)" fill="#959595" opacity="0.8"/>
<ellipse cx="926.9" cy="569.0" rx="7.9" ry="13.6" transform="rotate(36 926.9 569.0)" fill="#808080" opacity="0.8"/>
<ellipse cx="830.8" cy="716.2" rx="4.0" ry="10.3" transform="rotate(17 830.8 716.2)" fill="#d0d0d0" opacity="0.8"/>
<ellipse cx="1038.5" cy="535.4" rx="5.1" ry="11.8" transform="rotate(27 1038.5 535.4)" fill="#767676" opacity="0.8"/>
<ellipse cx="1046.5" cy="497.5" rx="6.7" ry="9.4" transform="rotate(47 1046.5 497.5)" fill="#7d7d7d" opacity="0.8"/>
<ellipse cx="882.0" cy="650.1" rx="3.8" ry="8.4" transform="rotate(23 882.0 650.1)" fill="#9c9c9c" opacity="0.8"/>
<ellipse cx="799.2" cy="682.6" rx="6.5" ry="11.6" transform="rotate(38 799.2 682.6)" fill="#dadada" opacity="0.8"/>
<ellipse cx="887.9" cy="516.8" rx="7.6" ry="16.2" transform="rotate(22 887.9 516.8)" fill="#a3a3a3" opacity="0.8"/>
<ellipse cx="885.5" cy="468.4" rx="7.0" ry="15.0" transform="rotate(23 885.5 468.4)" fill="#a1a1a1" opacity="0.8"/>
<ellipse cx="846.4" cy="639.0" rx="7.8" ry="17.9" transform="rotate(36 846.4 639.0)" fill="#b9b9b9" opacity="0.8"/>
<ellipse cx="788.1" cy="636.1" rx="7.8" ry="13.1" transform="rotate(22 788.1 636.1)" fill="#a8a8a8" opacity="0.8"/>
<ellipse cx="980.9" cy="505.5" rx="5.6" ry="13.6" transform="rotate(13 980.9 505.5)" fill="#848484" opacity="0.8"/>
<ellipse cx="836.3" cy="627.4" rx="5.2" ry="9.8" transform="rotate(16 836.3 627.4)" fill="#919191" opacity="0.8"/>
<ellipse cx="937.1" cy="693.9" rx="4.5" ry="10.6" transform="rotate(38 937.1 693.9)" fill="#989898" opacity="0.8"/>
<ellipse cx="854.8" cy="609.2" rx="7.1" ry="15.6" transform="rotate(50 854.8 609.2)" fill="#606060" opacity="0.8"/>
<ellipse cx="903.1" cy="708.4" rx="6.7" ry="13.5" transform="rotate(43 903.1 708.4)" fill="#b6b6b6" opacity="0.8"/>
<ellipse cx="885.5" cy="695.0" rx="6.9" ry="16.6" transform="rotate(21 885.5 695.0)" fill="#b0b0b0" opacity="0.8"/>
<ellipse cx="970.3" cy="590.8" rx="3.8" ry="6.7" transform="rotate(21 970.3 590.8)" fill="#727272" opacity="0.8"/>
<ellipse cx="801.3" cy="604.8" rx="5.2" ry="8.3" transform="rotate(19 801.3 604.8)" fill="#9f9f9f" opacity="0.8"/>
<ellipse cx="836.4" cy="551.9" rx="4.4" ry="8.4" transform="rotate(46 836.4 551.9)" fill="#b7b7b7" opacity="0.8"/>
<ellipse cx="898.9" cy="644.1" rx="7.7" ry="13.6" transform="rotate(26 898.9 644.1)" fill="#b7b7b7" opacity="0.8"/>
<ellipse cx="1012.3" cy="679.5" rx="4.7" ry="9.4" transform="rotate(26 1012.3 679.5)" fill="#989898" opacity="0.8"/>
<ellipse cx="930.1" cy="670.0" rx="7.6" ry="19.7" transform="rotate(31 930.1 670.0)" fill="#9b9b9b" opacity="0.8"/>
<ellipse cx="1018.0" cy="617.9" rx="5.4" ry="13.2" transform="rotate(17 1018.0 617.9)" fill="#c3c3c3" opacity="0.8"/>
<ellipse cx="779.4" cy="551.0" rx="6.9" ry="12.8" transform="rotate(40 779.4 551.0)" fill="#cecece" opacity="0.8"/>
<ellipse cx="990.3" cy="532.0" rx="6.9" ry="10.0" transform="rotate(48 990.3 532.0)" fill="#7a7a7a" opacity="0.8"/>
<ellipse cx="766.1" cy="485.6" rx="7.8" ry="12.7" transform="rotate(11 766.1 485.6)" fill="#898989" opacity="0.8"/>
<ellipse cx="739.6" cy="500.2" rx="4.5" ry="10.0" transform="rotate(41 739.6 500.2)" fill="#939393" opacity="0.8"/>
<ellipse cx="745.3" cy="621.8" rx="4.2" ry="7.5" transform="rotate(33 745.3 621.8)" fill="#9f9f9f" opacity="0.8"/>
<ellipse cx="1026.1" cy="613.8" rx="6.7" ry="10.0" transform="rotate(38 1026.1 613.8)" fill="#dbdbdb" opacity="0.8"/>
<ellipse cx="914.8" cy="494.1" rx="6.2" ry="9.6" transform="rotate(49 914.8 494.1)" fill="#a6a6a6" opacity="0.8"/>
<ellipse cx="972.1" cy="556.0" rx="3.8" ry="8.3" transform="rotate(11 972.1 556.0)" fill="#808080" opacity="0.8"/>
<ellipse cx="838.4" cy="592.2" rx="6.4" ry="15.2" transform="rotate(38 838.4 592.2)" fill="#989898" opacity="0.8"/>
<ellipse cx="844.1" cy="653.7" rx="7.6" ry="17.8" transform="rotate(29 844.1 653.7)" fill="#c0c0c0" opacity="0.8"/>
<ellipse cx="988.0" cy="618.0" rx="7.2" ry="10.9" transform="rotate(45 988.0 618.0)" fill="#c6c6c6" opacity="0.8"/>
<ellipse cx="773.4" cy="585.7" rx="5.7" ry="10.2" transform="rotate(30 773.4 585.7)" fill="#c5c5c5" opacity="0.8"/>
<ellipse cx="814.3" cy="533.6" rx="6.7" ry="11.5" transform="rotate(10 814.3 533.6)" fill="#d2d2d2" opacity="0.8"/>
<ellipse cx="1033.1" cy="489.9" rx="6.9" ry="15.4" transform="rotate(36 1033.1 489.9)" fill="#9b9b9b" opacity="0.8"/>
<ellipse cx="864.5" cy="668.7" rx="5.3" ry="9.0" transform="rotate(37 864.5 668.7)" fill="#a2a2a2" opacity="0.8"/>
<ellipse cx="819.5" cy="608.2" rx="6.9" ry="12.3" transform="rotate(38 819.5 608.2)" fill="#b4b4b4" opacity="0.8"/>
<ellipse cx="783.3" cy="531.8" rx="4.9" ry="11.3" transform="rotate(48 783.3 531.8)" fill="#a5a5a5" opacity="0.8"/>
<ellipse cx="938.0" cy="516.7" rx="6.2" ry="14.2" transform="rotate(34 938.0 516.7)" fill="#9d9d9d" opacity="0.8"/>
<ellipse cx="1045.1" cy="678.7" rx="4.3" ry="6.1" transform="rotate(31 1045.1 678.7)" fill="#a6a6a6" opacity="0.8"/>
<ellipse cx="784.6" cy="714.5" rx="4.1" ry="9.9" transform="rotate(30 784.6 714.5)" fill="#dddddd" opacity="0.8"/>
<ellipse cx="1005.3" cy="613.4" rx="5.0" ry="12.9" transform="rotate(20 1005.3 613.4)" fill="#d4d4d4" opacity="0.8"/>
<ellipse cx="1001.3" cy="497.1" rx="3.8" ry="8.3" transform="rotate(12 1001.3 497.1)" fill="#828282" opacity="0.8"/>
<ellipse cx="738.4" cy="610.5" rx="4.6" ry="9.6" transform="rotate(27 738.4 610.5)" fill="#c4c4c4" opacity="0.8"/>
<ellipse cx="903.3" cy="624.6" rx="5.5" ry="13.4" transform="rotate(50 903.3 624.6)" fill="#afafaf" opacity="0.8"/>
<ellipse cx="796.1" cy="625.2" rx="4.4" ry="7.3" transform="rotate(36 796.1 625.2)" fill="#909090" opacity="0.8"/>
<ellipse cx="741.3" cy="512.2" rx="5.3" ry="11.9" transform="rotate(29 741.3 512.2)" fill="#969696" opacity="0.8"/>
<ellipse cx="695.4" cy="541.1" rx="5.5" ry="12.3" transform="rotate(47 695.4 541.1)" fill="#d1d1d1" opacity="0.8"/>
<ellipse cx="974.0" cy="626.3" rx="6.0" ry="13.0" transform="rotate(46 974.0 626.3)" fill="#9f9f9f" opacity="0.8"/>
<ellipse cx="988.3" cy="486.3" rx="6.2" ry="14.8" transform="rotate(47 988.3 486.3)" fill="#7f7f7f" opacity="0.8"/>
<ellipse cx="845.4" cy="586.7" rx="7.7" ry="15.5" transform="rotate(30 845.4 586.7)" fill="#7f7f7f" opacity="0.8"/>
<ellipse cx="713.1" cy="478.4" rx="6.2" ry="8.9" transform="rotate(19 713.1 478.4)" fill="#d2d2d2" opacity="0.8"/>
<ellipse cx="932.1" cy="685.8" rx="6.5" ry="11.2" transform="rotate(12 932.1 685.8)" fill="#969696" opacity="0.8"/>
<ellipse cx="962.4" cy="587.2" rx="4.3" ry="9.1" transform="rotate(35 962.4 587.2)" fill="#858585" opacity="0.8"/>
<ellipse cx="864.8" cy="491.4" rx="4.9" ry="7.5" transform="rotate(16 864.8 491.4)" fill="#bdbdbd" opacity="0.8"/>
<ellipse cx="835.3" cy="593.5" rx="6.0" ry="11.6" transform="rotate(23 835.3 593.5)" fill="#9d9d9d" opacity="0.8"/>
<ellipse cx="802.7" cy="713.5" rx="7.2" ry="10.1" transform="rotate(45 802.7 713.5)" fill="#dcdcdc" opacity="0.8"/>
<ellipse cx="853.8" cy="482.0" rx="5.7" ry="11.1" transform="rotate(12 853.8 482.0)" fill="#d0d0d0" opacity="0.8"/>
<ellipse cx="781.9" cy="501.4" rx="6.6" ry="10.3" transform="rotate(49 781.9 501.4)" fill="#b2b2b2" opacity="0.8"/>
<ellipse cx="908.0" cy="528.8" rx="3.6" ry="6.7" transform="rotate(19 908.0 528.8)" fill="#767676" opacity="0.8"/>
<ellipse cx="993.8" cy="497.0" rx="4.2" ry="10.6" transform="rotate(22 993.8 497.0)" fill="#7f7f7f" opacity="0.8"/>
<ellipse cx="943.6" cy="573.3" rx="4.6" ry="9.5" transform="rotate(25 943.6 573.3)" fill="#777777" opacity="0.8"/>
<ellipse cx="1023.5" cy="596.7" rx="4.7" ry="11.1" transform="rotate(27 1023.5 596.7)" fill="#b4b4b4" opacity="0.8"/>
<ellipse cx="1028.0" cy="596.6" rx="4.8" ry="10.2" transform="rotate(50 1028.0 596.6)" fill="#c2c2c2" opacity="0.8"/>
<ellipse cx="864.0" cy="505.9" rx="6.0" ry="12.3" transform="rotate(28 864.0 505.9)" fill="#bbbbbb" opacity="0.8"/>
<ellipse cx="802.1" cy="516.0" rx="4.6" ry="10.6" transform="rotate(12 802.1 516.0)" fill="#ababab" opacity="0.8"/>
<ellipse cx="958.1" cy="646.5" rx="6.5" ry="15.5" transform="rotate(49 958.1 646.5)" fill="#c3c3c3" opacity="0.8"/>
<ellipse cx="866.1" cy="477.7" rx="7.4" ry="14.3" transform="rotate(31 866.1 477.7)" fill="#c3c3c3" opacity="0.8"/>
<ellipse cx="852.0" cy="650.9" rx="7.9" ry="11.7" transform="rotate(41 852.0 650.9)" fill="#bdbdbd" opacity="0.8"/>
<ellipse cx="781.2" cy="625.8" rx="7.3" ry="17.8" transform="rotate(44 781.2 625.8)" fill="#b2b2b2" opacity="0.8"/>
<ellipse cx="823.6" cy="548.3" rx="3.7" ry="5.4" transform="rotate(35 823.6 548.3)" fill="#d0d0d0" opacity="0.8"/>
<ellipse cx="1023.1" cy="720.3" rx="3.9" ry="8.5" transform="rotate(45 1023.1 720.3)" fill="#8e8e8e" opacity="0.8"/>
<ellipse cx="847.1" cy="643.7" rx="7.1" ry="12.4" transform="rotate(25 847.1 643.7)" fill="#a4a4a4" opacity="0.8"/>
<ellipse cx="737.1" cy="602.5" rx="3.9" ry="9.4" transform="rotate(35 737.1 602.5)" fill="#b9b9b9" opacity="0.8"/>
<ellipse cx="772.2" cy="699.0" rx="6.4" ry="12.4" transform="rotate(37 772.2 699.0)" fill="#c3c3c3" opacity="0.8"/>
<ellipse cx="1015.0" cy="585.9" rx="4.2" ry="8.1" transform="rotate(24 1015.0 585.9)" fill="#c6c6c6" opacity="0.8"/>
<ellipse cx="900.2" cy="629.8" rx="5.6" ry="9.8" transform="rotate(50 900.2 629.8)" fill="#b5b5b5" opacity="0.8"/>
<ellipse cx="998.2" cy="495.3" rx="6.1" ry="15.8" transform="rotate(22 998.2 495.3)" fill="#9d9d9d" opacity="0.8"/>
<ellipse cx="1044.2" cy="634.6" rx="7.4" ry="17.3" transform="rotate(49 1044.2 634.6)" fill="#bebebe" opacity="0.8"/>
<ellipse cx="1019.3" cy="656.6" rx="4.5" ry="10.7" transform="rotate(19 1019.3 656.6)" fill="#c0c0c0" opacity="0.8"/>
<ellipse cx="753.5" cy="531.6" rx="7.6" ry="16.5" transform="rotate(22 753.5 531.6)" fill="#9c9c9c" opacity="0.8"/>
<ellipse cx="846.0" cy="614.8" rx="4.8" ry="11.1" transform="rotate(17 846.0 614.8)" fill="#7a7a7a" opacity="0.8"/>
<ellipse cx="732.2" cy="604.6" rx="7.6" ry="18.2" transform="rotate(20 732.2 604.6)" fill="#d1d1d1" opacity="0.8"/>
<ellipse cx="987.6" cy="590.1" rx="5.0" ry="7.7" transform="rotate(49 987.6 590.1)" fill="#a6a6a6" opacity="0.8"/>
<ellipse cx="735.3" cy="712.5" rx="7.1" ry="13.1" transform="rotate(42 735.3 712.5)" fill="#dcdcdc" opacity="0.8"/>
<ellipse cx="688.5" cy="603.9" rx="6.9" ry="11.8" transform="rotate(25 688.5 603.9)" fill="#cecece" opacity="0.8"/>
<ellipse cx="919.0" cy="562.2" rx="6.3" ry="15.9" transform="rotate(23 919.0 562.2)" fill="#616161" opacity="0.8"/>
<ellipse cx="908.5" cy="632.0" rx="4.9" ry="9.2" transform="rotate(16 908.5 632.0)" fill="#bcbcbc" opacity="0.8"/>
<ellipse cx="1032.5" cy="545.2" rx="4.6" ry="9.3" transform="rotate(26 1032.5 545.2)" fill="#979797" opacity="0.8"/>
<ellipse cx="820.3" cy="708.2" rx="6.8" ry="16.7" transform="rotate(36 820.3 708.2)" fill="#d2d2d2" opacity="0.8"/>
<ellipse cx="990.9" cy="623.9" rx="5.2" ry="10.0" transform="rotate(48 990.9 623.9)" fill="#bfbfbf" opacity="0.8"/>
<ellipse cx="999.0" cy="493.4" rx="7.9" ry="14.5" transform="rotate(26 999.0 493.4)" fill="#9d9d9d" opacity="0.8"/>
<ellipse cx="753.4" cy="499.2" rx="4.5" ry="9.7" transform="rotate(49 753.4 499.2)" fill="#a2a2a2" opacity="0.8"/>
<ellipse cx="702.1" cy="552.6" rx="4.4" ry="10.6" transform="rotate(32 702.1 552.6)" fill="#b0b0b0" opacity="0.8"/>
<ellipse cx="899.7" cy="673.8" rx="4.2" ry="10.3" transform="rotate(10 899.7 673.8)" fill="#9c9c9c" opacity="0.8"/>
<ellipse cx="1000.1" cy="504.9" rx="7.1" ry="10.9" transform="rotate(45 1000.1 504.9)" fill="#7e7e7e" opacity="0.8"/>
<ellipse cx="732.0" cy="558.8" rx="3.6" ry="6.1" transform="rotate(15 732.0 558.8)" fill="#b8b8b8" opacity="0.8"/>
<ellipse cx="838.7" cy="497.0" rx="7.0" ry="14.1" transform="rotate(14 838.7 497.0)" fill="#b1b1b1" opacity="0.8"/>
<ellipse cx="869.3" cy="707.2" rx="7.6" ry="16.6" transform="rotate(22 869.3 707.2)" fill="#949494" opacity="0.8"/>
<ellipse cx="920.7" cy="476.2" rx="5.4" ry="8.3" transform="rotate(38 920.7 476.2)" fill="#aaaaaa" opacity="0.8"/>
<ellipse cx="847.0" cy="695.5" rx="3.8" ry="6.6" transform="rotate(35 847.0 695.5)" fill="#bebebe" opacity="0.8"/>
<ellipse cx="885.7" cy="550.5" rx="6.2" ry="9.5" transform="rotate(38 885.7 550.5)" fill="#898989" opacity="0.8"/>
<ellipse cx="998.0" cy="632.8" rx="7.5" ry="14.2" transform="rotate(43 998.0 632.8)" fill="#b4b4b4" opacity="0.8"/>
<ellipse cx="830.5" cy="652.7" rx="6.5" ry="12.0" transform="rotate(16 830.5 652.7)" fill="#c7c7c7" opacity="0.8"/>
<ellipse cx="1023.9" cy="485.3" rx="3.9" ry="9.0" transform="rotate(42 1023.9 485.3)" fill="#888888" opacity="0.8"/>
<ellipse cx="888.6" cy="616.5" rx="5.3" ry="13.1" transform="rotate(48 888.6 616.5)" fill="#a7a7a7" opacity="0.8"/>
<ellipse cx="839.4" cy="699.7" rx="6.2" ry="11.3" transform="rotate(33 839.4 699.7)" fill="#9f9f9f" opacity="0.8"/>
<ellipse cx="761.9" cy="634.3" rx="5.1" ry="10.5" transform="rotate(15 761.9 634.3)" fill="#878787" opacity="0.8"/>
<ellipse cx="786.2" cy="525.5" rx="7.9" ry="18.8" transform="rotate(35 786.2 525.5)" fill="#c7c7c7" opacity="0.8"/>
<ellipse cx="920.5" cy="474.9" rx="4.7" ry="10.9" transform="rotate(47 920.5 474.9)" fill="#9c9c9c" opacity="0.8"/>
<ellipse cx="812.9" cy="514.1" rx="5.3" ry="8.3" transform="rotate(35 812.9 514.1)" fill="#aeaeae" opacity="0.8"/>
<ellipse cx="694.7" cy="656.8" rx="5.5" ry="8.8" transform="rotate(22 694.7 656.8)" fill="#9f9f9f" opacity="0.8"/>
<ellipse cx="803.1" cy="706.2" rx="4.2" ry="9.7" transform="rotate(12 803.1 706.2)" fill="#b5b5b5" opacity="0.8"/>
<ellipse cx="713.5" cy="580.3" rx="5.5" ry="9.5" transform="rotate(40 713.5 580.3)" fill="#d4d4d4" opacity="0.8"/>
<ellipse cx="725.4" cy="576.9" rx="6.2" ry="12.5" transform="rotate(22 725.4 576.9)" fill="#d7d7d7" opacity="0.8"/>
<ellipse cx="764.7" cy="717.1" rx="4.9" ry="8.0" transform="rotate(15 764.7 717.1)" fill="#c7c7c7" opacity="0.8"/>
<ellipse cx="777.7" cy="551.2" rx="5.4" ry="8.5" transform="rotate(31 777.7 551.2)" fill="#b7b7b7" opacity="0.8"/>
<ellipse cx="768.3" cy="609.5" rx="7.4" ry="10.7" transform="rotate(11 768.3 609.5)" fill="#b2b2b2" opacity="0.8"/>
<ellipse cx="1023.2" cy="686.2" rx="6.7" ry="12.7" transform="rotate(15 1023.2 686.2)" fill="#adadad" opacity="0.8"/>
<ellipse cx="691.1" cy="550.4" rx="7.6" ry="11.5" transform="rotate(44 691.1 550.4)" fill="#d5d5d5" opacity="0.8"/>
<ellipse cx="773.2" cy="617.1" rx="4.9" ry="8.8" transform="rotate(23 773.2 617.1)" fill="#9a9a9a" opacity="0.8"/>
<ellipse cx="745.4" cy="597.3" rx="4.4" ry="10.2" transform="rotate(24 745.4 597.3)" fill="#b0b0b0" opacity="0.8"/>
<ellipse cx="1036.9" cy="631.4" rx="4.2" ry="6.8" transform="rotate(34 1036.9 631.4)" fill="#b4b4b4" opacity="0.8"/>
<ellipse cx="963.8" cy="633.9" rx="6.3" ry="12.4" transform="rotate(33 963.8 633.9)" fill="#9b9b9b" opacity="0.8"/>
<ellipse cx="897.2" cy="640.4" rx="6.3" ry="10.0" transform="rotate(13 897.2 640.4)" fill="#bebebe" opacity="0.8"/>
<ellipse cx="846.5" cy="544.8" rx="5.1" ry="7.6" transform="rotate(28 846.5 544.8)" fill="#b7b7b7" opacity="0.8"/>
<ellipse cx="697.3" cy="561.5" rx="7.4" ry="17.9" transform="rotate(35 697.3 561.5)" fill="#cacaca" opacity="0.8"/>
<ellipse cx="870.5" cy="585.2" rx="7.1" ry="15.6" transform="rotate(23 870.5 585.2)" fill="#5c5c5c" opacity="0.8"/>
<ellipse cx="858.9" cy="506.4" rx="7.1" ry="17.2" transform="rotate(49 858.9 506.4)" fill="#aaaaaa" opacity="0.8"/>
<ellipse cx="714.5" cy="631.6" rx="5.5" ry="10.5" transform="rotate(31 714.5 631.6)" fill="#acacac" opacity="0.8"/>
<ellipse cx="742.0" cy="562.5" rx="7.0" ry="15.5" transform="rotate(12 742.0 562.5)" fill="#d2d2d2" opacity="0.8"/>
<ellipse cx="916.1" cy="552.9" rx="6.6" ry="11.4" transform="rotate(39 916.1 552.9)" fill="#707070" opacity="0.8"/>
<ellipse cx="925.6" cy="697.3" rx="6.1" ry="9.6" transform="rotate(24 925.6 697.3)" fill="#9e9e9e" opacity="0.8"/>
<ellipse cx="1040.4" cy="644.8" rx="6.7" ry="10.0" transform="rotate(32 1040.4 644.8)" fill="#b7b7b7" opacity="0.8"/>
<ellipse cx="920.8" cy="551.3" rx="7.2" ry="16.5" transform="rotate(37 920.8 551.3)" fill="#5a5a5a" opacity="0.8"/>
<ellipse cx="877.6" cy="631.6" rx="3.6" ry="6.3" transform="rotate(48 877.6 631.6)" fill="#acacac" opacity="0.8"/>
<ellipse cx="809.5" cy="661.9" rx="4.1" ry="6.1" transform="rotate(44 809.5 661.9)" fill="#bbbbbb" opacity="0.8"/>
<ellipse cx="720.7" cy="663.1" rx="7.4" ry="15.9" transform="rotate(34 720.7 663.1)" fill="#9f9f9f" opacity="0.8"/>
<ellipse cx="740.3" cy="514.0" rx="3.7" ry="6.8" transform="rotate(39 740.3 514.0)" fill="#8c8c8c" opacity="0.8"/>
<ellipse cx="1041.1" cy="622.6" rx="4.6" ry="11.7" transform="rotate(41 1041.1 622.6)" fill="#d0d0d0" opacity="0.8"/>
<ellipse cx="1016.9" cy="517.3" rx="4.8" ry="8.9" transform="rotate(31 1016.9 517.3)" fill="#8c8c8c" opacity="0.8"/>
<ellipse cx="1039.9" cy="674.7" rx="3.7" ry="7.4" transform="rotate(25 1039.9 674.7)" fill="#8a8a8a" opacity="0.8"/>
<ellipse cx="1028.1" cy="648.1" rx="6.9" ry="12.0" transform="rotate(46 1028.1 648.1)" fill="#a6a6a6" opacity="0.8"/>
<ellipse cx="737.8" cy="578.8" rx="7.5" ry="18.8" transform="rotate(27 737.8 578.8)" fill="#b4b4b4" opacity="0.8"/>
<ellipse cx="829.7" cy="562.8" rx="5.2" ry="7.4" transform="rotate(47 829.7 562.8)" fill="#bdbdbd" opacity="0.8"/>
<ellipse cx="993.0" cy="632.5" rx="4.8" ry="11.5" transform="rotate(38 993.0 632.5)" fill="#b6b6b6" opacity="0.8"/>
<ellipse cx="734.6" cy="646.6" rx="7.6" ry="10.8" transform="rotate(19 734.6 646.6)" fill="#bebebe" opacity="0.8"/>
<ellipse cx="738.6" cy="705.9" rx="4.8" ry="8.4" transform="rotate(12 738.6 705.9)" fill="#cfcfcf" opacity="0.8"/>
<ellipse cx="838.3" cy="668.9" rx="7.3" ry="14.5" transform="rotate(31 838.3 668.9)" fill="#c2c2c2" opacity="0.8"/>
<ellipse cx="916.5" cy="613.6" rx="3.5" ry="6.4" transform="rotate(33 916.5 613.6)" fill="#919191" opacity="0.8"/>
<ellipse cx="752.5" cy="637.2" rx="5.9" ry="11.8" transform="rotate(50 752.5 637.2)" fill="#a6a6a6" opacity="0.8"/>
<ellipse cx="887.8" cy="567.0" rx="5.2" ry="9.7" transform="rotate(40 887.8 567.0)" fill="#797979" opacity="0.8"/>
<ellipse cx="815.1" cy="485.4" rx="6.3" ry="14.7" transform="rotate(39 815.1 485.4)" fill="#a2a2a2" opacity="0.8"/>
<ellipse cx="806.1" cy="479.5" rx="4.3" ry="10.0" transform="rotate(29 806.1 479.5)" fill="#c2c2c2" opacity="0.8"/>
<ellipse cx="939.9" cy="627.9" rx="7.0" ry="13.6" transform="rotate(22 939.9 627.9)" fill="#939393" opacity="0.8"/>
<ellipse cx="699.6" cy="518.7" rx="4.9" ry="9.2" transform="rotate(43 699.6 518.7)" fill="#b2b2b2" opacity="0.8"/>
<ellipse cx="858.0" cy="477.6" rx="7.4" ry="10.8" transform="rotate(36 858.0 477.6)" fill="#b1b1b1" opacity="0.8"/>
<ellipse cx="784.2" cy="670.3" rx="6.8" ry="16.9" transform="rotate(25 784.2 670.3)" fill="#e2e2e2" opacity="0.8"/>
<ellipse cx="1042.6" cy="593.7" rx="7.1" ry="12.2" transform="rotate(13 1042.6 593.7)" fill="#d9d9d9" opacity="0.8"/>
<ellipse cx="840.0" cy="577.1" rx="4.9" ry="7.4" transform="rotate(36 840.0 577.1)" fill="#707070" opacity="0.8"/>
<ellipse cx="796.5" cy="620.6" rx="5.5" ry="10.6" transform="rotate(39 796.5 620.6)" fill="#acacac" opacity="0.8"/>
<ellipse cx="1019.7" cy="623.7" rx="7.9" ry="20.1" transform="rotate(13 1019.7 623.7)" fill="#cfcfcf" opacity="0.8"/>
<ellipse cx="918.6" cy="560.1" rx="4.1" ry="8.8" transform="rotate(41 918.6 560.1)" fill="#585858" opacity="0.8"/>
<ellipse cx="696.2" cy="485.3" rx="7.8" ry="11.2" transform="rotate(16 696.2 485.3)" fill="#d7d7d7" opacity="0.8"/>
<ellipse cx="849.4" cy="562.0" rx="6.1" ry="12.4" transform="rotate(26 849.4 562.0)" fill="#989898" opacity="0.8"/>
<ellipse cx="923.0" cy="531.4" rx="4.3" ry="8.8" transform="rotate(47 923.0 531.4)" fill="#7a7a7a" opacity="0.8"/>
<ellipse cx="726.8" cy="664.1" rx="6.3" ry="14.0" transform="rotate(50 726.8 664.1)" fill="#bbbbbb" opacity="0.8"/>
<ellipse cx="757.2" cy="502.6" rx="7.5" ry="14.6" transform="rotate(14 757.2 502.6)" fill="#8d8d8d" opacity="0.8"/>
<ellipse cx="935.0" cy="682.0" rx="6.7" ry="13.8" transform="rotate(22 935.0 682.0)" fill="#bdbdbd" opacity="0.8"/>
<ellipse cx="794.1" cy="508.1" rx="5.8" ry="8.9" transform="rotate(18 794.1 508.1)" fill="#a0a0a0" opacity="0.8"/>
<ellipse cx="734.6" cy="668.0" rx="6.1" ry="11.9" transform="rotate(49 734.6 668.0)" fill="#acacac" opacity="0.8"/>
<ellipse cx="731.3" cy="691.7" rx="8.0" ry="18.1" transform="rotate(31 731.3 691.7)" fill="#b7b7b7" opacity="0.8"/>
<ellipse cx="967.1" cy="676.4" rx="4.9" ry="7.3" transform="rotate(29 967.1 676.4)" fill="#acacac" opacity="0.8"/>
<ellipse cx="874.3" cy="500.7" rx="4.1" ry="8.2" transform="rotate(45 874.3 500.7)" fill="#919191" opacity="0.8"/>
<ellipse cx="990.1" cy="599.2" rx="5.0" ry="11.1" transform="rotate(24 990.1 599.2)" fill="#acacac" opacity="0.8"/>
<ellipse cx="1030.5" cy="694.4" rx="6.4" ry="13.1" transform="rotate(15 1030.5 694.4)" fill="#919191" opacity="0.8"/>
<ellipse cx="795.1" cy="603.1" rx="6.1" ry="9.8" transform="rotate(35 795.1 603.1)" fill="#999999" opacity="0.8"/>
<ellipse cx="1016.1" cy="553.6" rx="3.6" ry="5.3" transform="rotate(36 1016.1 553.6)" fill="#838383" opacity="0.8"/>
<ellipse cx="896.2" cy="632.8" rx="3.6" ry="9.0" transform="rotate(32 896.2 632.8)" fill="#b5b5b5" opacity="0.8"/>
<ellipse cx="920.2" cy="544.6" rx="6.6" ry="11.6" transform="rotate(13 920.2 544.6)" fill="#5d5d5d" opacity="0.8"/>
<ellipse cx="705.5" cy="579.4" rx="5.0" ry="7.9" transform="rotate(44 705.5 579.4)" fill="#d4d4d4" opacity="0.8"/>
<ellipse cx="801.2" cy="718.0" rx="4.1" ry="7.5" transform="rotate(32 801.2 718.0)" fill="#dedede" opacity="0.8"/>
<ellipse cx="801.1" cy="586.2" rx="4.1" ry="6.0" transform="rotate(48 801.1 586.2)" fill="#bdbdbd" opacity="0.8"/>
<ellipse cx="1002.2" cy="574.0" rx="7.7" ry="17.4" transform="rotate(18 1002.2 574.0)" fill="#888888" opacity="0.8"/>
<ellipse cx="742.2" cy="720.0" rx="4.9" ry="7.0" transform="rotate(48 742.2 720.0)" fill="#d6d6d6" opacity="0.8"/>
<ellipse cx="869.9" cy="712.6" rx="3.7" ry="6.5" transform="rotate(34 869.9 712.6)" fill="#979797" opacity="0.8"/>
<ellipse cx="994.3" cy="638.2" rx="7.3" ry="14.0" transform="rotate(45 994.3 638.2)" fill="#cecece" opacity="0.8"/>
<ellipse cx="951.8" cy="661.3" rx="3.7" ry="7.7" transform="rotate(25 951.8 661.3)" fill="#bababa" opacity="0.8"/>
<ellipse cx="789.9" cy="565.9" rx="4.8" ry="12.3" transform="rotate(37 789.9 565.9)" fill="#cfcfcf" opacity="0.8"/>
<ellipse cx="727.2" cy="714.7" rx="7.9" ry="16.4" transform="rotate(25 727.2 714.7)" fill="#d0d0d0" opacity="0.8"/>
<ellipse cx="736.6" cy="620.5" rx="3.7" ry="5.8" transform="rotate(23 736.6 620.5)" fill="#c5c5c5" opacity="0.8"/>
<ellipse cx="858.2" cy="583.8" rx="6.3" ry="10.0" transform="rotate(50 858.2 583.8)" fill="#535353" opacity="0.8"/>
<ellipse cx="956.1" cy="543.9" rx="5.8" ry="11.5" transform="rotate(33 956.1 543.9)" fill="#858585" opacity="0.8"/>
<ellipse cx="858.6" cy="472.5" rx="7.9" ry="16.6" transform="rotate(42 858.6 472.5)" fill="#cacaca" opacity="0.8"/>
<ellipse cx="951.0" cy="642.2" rx="4.7" ry="10.3" transform="rotate(49 951.0 642.2)" fill="#a6a6a6" opacity="0.8"/>
<ellipse cx="896.8" cy="525.8" rx="4.3" ry="9.2" transform="rotate(35 896.8 525.8)" fill="#7a7a7a" opacity="0.8"/>
<ellipse cx="993.7" cy="505.6" rx="7.8" ry="11.9" transform="rotate(11 993.7 505.6)" fill="#878787" opacity="0.8"/>
<ellipse cx="799.1" cy="506.6" rx="7.0" ry="17.5" transform="rotate(45 799.1 506.6)" fill="#a8a8a8" opacity="0.8"/>
<ellipse cx="954.9" cy="484.0" rx="6.0" ry="15.6" transform="rotate(29 954.9 484.0)" fill="#8c8c8c" opacity="0.8"/>
<ellipse cx="822.4" cy="710.1" rx="5.0" ry="9.2" transform="rotate(41 822.4 710.1)" fill="#d6d6d6" opacity="0.8"/>
<ellipse cx="949.3" cy="630.9" rx="4.4" ry="7.4" transform="rotate(32 949.3 630.9)" fill="#b1b1b1" opacity="0.8"/>
<ellipse cx="766.4" cy="714.2" rx="6.7" ry="14.9" transform="rotate(30 766.4 714.2)" fill="#dedede" opacity="0.8"/>
<ellipse cx="860.4" cy="609.9" rx="6.1" ry="12.5" transform="rotate(46 860.4 609.9)" fill="#7e7e7e" opacity="0.8"/>
<ellipse cx="828.9" cy="555.5" rx="4.8" ry="10.8" transform="rotate(24 828.9 555.5)" fill="#a6a6a6" opacity="0.8"/>
<ellipse cx="846.6" cy="533.1" rx="7.2" ry="12.5" transform="rotate(32 846.6 533.1)" fill="#bbbbbb" opacity="0.8"/>
<ellipse cx="783.6" cy="495.9" rx="6.5" ry="13.3" transform="rotate(36 783.6 495.9)" fill="#9c9c9c" opacity="0.8"/>
<ellipse cx="702.8" cy="572.7" rx="7.0" ry="9.8" transform="rotate(32 702.8 572.7)" fill="#cdcdcd" opacity="0.8"/>
<ellipse cx="1026.1" cy="571.1" rx="4.4" ry="11.2" transform="rotate(23 1026.1 571.1)" fill="#bfbfbf" opacity="0.8"/>
<ellipse cx="921.7" cy="697.7" rx="4.5" ry="10.4" transform="rotate(44 921.7 697.7)" fill="#999999" opacity="0.8"/>
<ellipse cx="697.2" cy="701.2" rx="4.3" ry="10.7" transform="rotate(50 697.2 701.2)" fill="#d0d0d0" opacity="0.8"/>
<ellipse cx="829.9" cy="593.5" rx="3.5" ry="7.4" transform="rotate(14 829.9 593.5)" fill="#ababab" opacity="0.8"/>
<ellipse cx="1046.0" cy="540.2" rx="4.1" ry="8.2" transform="rotate(21 1046.0 540.2)" fill="#9e9e9e" opacity="0.8"/>
<ellipse cx="981.8" cy="551.9" rx="6.7" ry="9.5" transform="rotate(23 981.8 551.9)" fill="#8a8a8a" opacity="0.8"/>
<ellipse cx="792.2" cy="638.7" rx="7.4" ry="18.2" transform="rotate(43 792.2 638.7)" fill="#9b9b9b" opacity="0.8"/>
<ellipse cx="873.5" cy="490.2" rx="4.1" ry="7.4" transform="rotate(20 873.5 490.2)" fill="#9d9d9d" opacity="0.8"/>
<ellipse cx="779.6" cy="527.8" rx="4.9" ry="11.0" transform="rotate(10 779.6 527.8)" fill="#c5c5c5" opacity="0.8"/>
<ellipse cx="924.5" cy="643.4" rx="5.6" ry="8.9" transform="rotate(37 924.5 643.4)" fill="#9f9f9f" opacity="0.8"/>
<ellipse cx="1023.9" cy="692.6" rx="6.4" ry="16.1" transform="rotate(25 1023.9 692.6)" fill="#adadad" opacity="0.8"/>
<ellipse cx="764.9" cy="710.2" rx="6.9" ry="14.6" transform="rotate(27 764.9 710.2)" fill="#d4d4d4" opacity="0.8"/>
<ellipse cx="886.0" cy="587.3" rx="6.6" ry="13.9" transform="rotate(41 886.0 587.3)" fill="#646464" opacity="0.8"/>
<ellipse cx="877.3" cy="601.8" rx="6.0" ry="8.9" transform="rotate(32 877.3 601.8)" fill="#868686" opacity="0.8"/>
<ellipse cx="869.9" cy="613.0" rx="7.3" ry="14.2" transform="rotate(37 869.9 613.0)" fill="#7c7c7c" opacity="0.8"/>
<ellipse cx="947.9" cy="591.8" rx="5.5" ry="11.2" transform="rotate(28 947.9 591.8)" fill="#7b7b7b" opacity="0.8"/>
<ellipse cx="704.7" cy="585.1" rx="5.3" ry="12.6" transform="rotate(40 704.7 585.1)" fill="#d7d7d7" opacity="0.8"/>
<ellipse cx="896.7" cy="479.7" rx="5.9" ry="8.7" transform="rotate(46 896.7 479.7)" fill="#a7a7a7" opacity="0.8"/>
<ellipse cx="1047.2" cy="587.6" rx="7.0" ry="16.1" transform="rotate(49 1047.2 587.6)" fill="#d7d7d7" opacity="0.8"/>
<ellipse cx="921.7" cy="574.5" rx="7.6" ry="14.1" transform="rotate(13 921.7 574.5)" fill="#7d7d7d" opacity="0.8"/>
<ellipse cx="1039.1" cy="689.3" rx="5.1" ry="8.2" transform="rotate(31 1039.1 689.3)" fill="#8b8b8b" opacity="0.8"/>
<ellipse cx="878.5" cy="652.2" rx="6.9" ry="17.8" transform="rotate(29 878.5 652.2)" fill="#949494" opacity="0.8"/>
<ellipse cx="948.7" cy="575.5" rx="4.6" ry="8.4" transform="rotate(21 948.7 575.5)" fill="#757575" opacity="0.8"/>
<ellipse cx="1029.2" cy="651.5" rx="6.5" ry="13.8" transform="rotate(47 1029.2 651.5)" fill="#a7a7a7" opacity="0.8"/>
<ellipse cx="1011.4" cy="529.1" rx="3.7" ry="7.7" transform="rotate(38 1011.4 529.1)" fill="#818181" opacity="0.8"/>
<ellipse cx="701.4" cy="655.4" rx="5.9" ry="13.7" transform="rotate(41 701.4 655.4)" fill="#b7b7b7" opacity="0.8"/>
<ellipse cx="735.1" cy="719.4" rx="6.8" ry="12.1" transform="rotate(34 735.1 719.4)" fill="#b5b5b5" opacity="0.8"/>
<ellipse cx="931.5" cy="549.3" rx="7.9" ry="16.1" transform="rotate(27 931.5 549.3)" fill="#838383" opacity="0.8"/>
<ellipse cx="784.9" cy="609.0" rx="5.4" ry="10.8" transform="rotate(49 784.9 609.0)" fill="#979797" opacity="0.8"/>
<ellipse cx="1030.8" cy="637.9" rx="5.3" ry="9.4" transform="rotate(17 1030.8 637.9)" fill="#c6c6c6" opacity="0.8"/>
<ellipse cx="881.8" cy="529.2" rx="6.7" ry="15.8" transform="rotate(47 881.8 529.2)" fill="#848484" opacity="0.8"/>
<ellipse cx="890.9" cy="712.9" rx="4.6" ry="8.3" transform="rotate(13 890.9 712.9)" fill="#999999" opacity="0.8"/>
<ellipse cx="849.3" cy="562.1" rx="5.2" ry="11.0" transform="rotate(12 849.3 562.1)" fill="#808080" opacity="0.8"/>
<ellipse cx="710.3" cy="671.6" rx="7.4" ry="13.3" transform="rotate(48 710.3 671.6)" fill="#9c9c9c" opacity="0.8"/>
<ellipse cx="689.1" cy="705.1" rx="6.9" ry="17.2" transform="rotate(38 689.1 705.1)" fill="#ababab" opacity="0.8"/>
<ellipse cx="943.0" cy="568.5" rx="7.0" ry="13.0" transform="rotate(31 943.0 568.5)" fill="#575757" opacity="0.8"/>
<ellipse cx="815.9" cy="534.4" rx="7.1" ry="16.1" transform="rotate(40 815.9 534.4)" fill="#cbcbcb" opacity="0.8"/>
<ellipse cx="801.5" cy="519.6" rx="6.0" ry="10.0" transform="rotate(16 801.5 519.6)" fill="#c7c7c7" opacity="0.8"/>
<ellipse cx="779.6" cy="704.5" rx="4.4" ry="7.3" transform="rotate(33 779.6 704.5)" fill="#d6d6d6" opacity="0.8"/>
<ellipse cx="774.0" cy="607.4" rx="7.2" ry="18.4" transform="rotate(36 774.0 607.4)" fill="#b5b5b5" opacity="0.8"/>
<ellipse cx="864.4" cy="510.8" rx="6.7" ry="13.4" transform="rotate(47 864.4 510.8)" fill="#b6b6b6" opacity="0.8"/>
<ellipse cx="883.4" cy="630.5" rx="7.3" ry="10.8" transform="rotate(43 883.4 630.5)" fill="#939393" opacity="0.8"/>
<ellipse cx="701.3" cy="469.9" rx="4.5" ry="10.2" transform="rotate(10 701.3 469.9)" fill="#b9b9b9" opacity="0.8"/>
<ellipse cx="870.0" cy="562.6" rx="3.6" ry="7.3" transform="rotate(26 870.0 562.6)" fill="#8a8a8a" opacity="0.8"/>
<ellipse cx="689.6" cy="650.8" rx="7.2" ry="15.8" transform="rotate(42 689.6 650.8)" fill="#b3b3b3" opacity="0.8"/>
<ellipse cx="1019.0" cy="495.3" rx="4.6" ry="9.8" transform="rotate(20 1019.0 495.3)" fill="#7d7d7d" opacity="0.8"/>
<ellipse cx="814.2" cy="669.2" rx="5.3" ry="11.1" transform="rotate(50 814.2 669.2)" fill="#bebebe" opacity="0.8"/>
<ellipse cx="766.7" cy="641.2" rx="7.4" ry="17.0" transform="rotate(14 766.7 641.2)" fill="#878787" opacity="0.8"/>
<ellipse cx="823.3" cy="608.0" rx="6.7" ry="10.0" transform="rotate(44 823.3 608.0)" fill="#989898" opacity="0.8"/>
<ellipse cx="921.3" cy="552.0" rx="7.6" ry="12.8" transform="rotate(46 921.3 552.0)" fill="#575757" opacity="0.8"/>
<ellipse cx="938.8" cy="611.5" rx="3.8" ry="9.6" transform="rotate(46 938.8 611.5)" fill="#7f7f7f" opacity="0.8"/>
<ellipse cx="891.3" cy="476.6" rx="4.4" ry="7.0" transform="rotate(43 891.3 476.6)" fill="#9d9d9d" opacity="0.8"/>
<ellipse cx="986.2" cy="703.0" rx="4.6" ry="11.0" transform="rotate(26 986.2 703.0)" fill="#a9a9a9" opacity="0.8"/>
<ellipse cx="1014.1" cy="552.1" rx="6.6" ry="9.9" transform="rotate(40 1014.1 552.1)" fill="#818181" opacity="0.8"/>
<ellipse cx="811.0" cy="493.0" rx="5.0" ry="11.7" transform="rotate(48 811.0 493.0)" fill="#a0a0a0" opacity="0.8"/>
<ellipse cx="829.7" cy="663.8" rx="7.0" ry="13.6" transform="rotate(19 829.7 663.8)" fill="#b0b0b0" opacity="0.8"/>
<ellipse cx="887.4" cy="563.2" rx="6.5" ry="9.7" transform="rotate(35 887.4 563.2)" fill="#656565" opacity="0.8"/>
<ellipse cx="977.8" cy="648.5" rx="5.2" ry="12.2" transform="rotate(16 977.8 648.5)" fill="#b2b2b2" opacity="0.8"/>
<ellipse cx="827.1" cy="559.4" rx="4.9" ry="9.0" transform="rotate(21 827.1 559.4)" fill="#aaaaaa" opacity="0.8"/>
<ellipse cx="732.3" cy="515.7" rx="5.8" ry="8.8" transform="rotate(14 732.3 515.7)" fill="#afafaf" opacity="0.8"/>
<ellipse cx="887.9" cy="619.1" rx="3.6" ry="6.7" transform="rotate(41 887.9 619.1)" fill="#acacac" opacity="0.8"/>
</g>
<g filter="url(#bl2m)">
<ellipse cx="861.8" cy="585.6" rx="26.2" ry="21.0" transform="rotate(-30 861.8 585.6)" fill="#4c4c4c"/>
<ellipse cx="861.8" cy="582.1" rx="13.3" ry="9.1" transform="rotate(-35 861.8 582.1)" fill="#080808"/>
<ellipse cx="853.0" cy="604.8" rx="4.9" ry="13.3" transform="rotate(15 853.0 604.8)" fill="#383838"/>
<ellipse cx="1044.3" cy="510.4" rx="4.2" ry="11.2" transform="rotate(25 1044.3 510.4)" fill="#242424"/>
<ellipse cx="1027.8" cy="596.1" rx="4.9" ry="18.2" transform="rotate(10 1027.8 596.1)" fill="#ffffff"/>
<ellipse cx="1015.6" cy="624.1" rx="5.9" ry="12.6" transform="rotate(25 1015.6 624.1)" fill="#f7f7f7"/>
<ellipse cx="1005.1" cy="611.8" rx="6.3" ry="10.5" transform="rotate(10 1005.1 611.8)" fill="#dbdbdb"/>
<ellipse cx="798.9" cy="657.3" rx="4.2" ry="7.7" transform="rotate(25 798.9 657.3)" fill="#ffffff"/>
<ellipse cx="789.1" cy="678.9" rx="4.5" ry="8.4" transform="rotate(15 789.1 678.9)" fill="#ebebeb"/>
<ellipse cx="758.7" cy="669.5" rx="5.6" ry="10.5" transform="rotate(30 758.7 669.5)" fill="#d6d6d6"/>
<ellipse cx="809.3" cy="674.8" rx="4.9" ry="7.7" transform="rotate(20 809.3 674.8)" fill="#d6d6d6"/>
<ellipse cx="854.8" cy="501.7" rx="5.6" ry="12.6" transform="rotate(25 854.8 501.7)" fill="#c2c2c2"/>
<ellipse cx="952.7" cy="569.9" rx="11.2" ry="5.6" transform="rotate(-20 952.7 569.9)" fill="#454545"/>
<ellipse cx="912.5" cy="548.9" rx="10.5" ry="4.9" transform="rotate(25 912.5 548.9)" fill="#545454"/>
<ellipse cx="776.1" cy="639.8" rx="6.3" ry="11.9" transform="rotate(20 776.1 639.8)" fill="#7a7a7a"/>
<ellipse cx="963.2" cy="608.3" rx="9.8" ry="6.3" transform="rotate(-30 963.2 608.3)" fill="#5c5c5c"/>
<ellipse cx="798.9" cy="534.9" rx="17.5" ry="9.8" transform="rotate(25 798.9 534.9)" fill="#8f8f8f"/>
<ellipse cx="744.7" cy="513.9" rx="11.9" ry="7.0" transform="rotate(30 744.7 513.9)" fill="#858585"/>
<ellipse cx="694.0" cy="666.0" rx="7.0" ry="14.0" transform="rotate(0 694.0 666.0)" fill="#858585"/>
<ellipse cx="938.7" cy="534.9" rx="7.7" ry="15.4" transform="rotate(25 938.7 534.9)" fill="#757575"/>
<ellipse cx="994.6" cy="552.4" rx="6.3" ry="17.5" transform="rotate(20 994.6 552.4)" fill="#a3a3a3"/>
<ellipse cx="725.4" cy="706.2" rx="14.0" ry="7.7" transform="rotate(0 725.4 706.2)" fill="#d6d6d6"/>
<ellipse cx="889.8" cy="510.4" rx="7.0" ry="14.0" transform="rotate(30 889.8 510.4)" fill="#808080"/>
</g>
<g filter="url(#bl2s)">
<ellipse cx="861.8" cy="581.4" rx="10.5" ry="7.0" transform="rotate(-35 861.8 581.4)" fill="#050505"/>
<ellipse cx="854.8" cy="603.1" rx="2.8" ry="9.8" transform="rotate(15 854.8 603.1)" fill="#292929"/>
<ellipse cx="1027.8" cy="595.0" rx="5.2" ry="17.5" transform="rotate(8 1027.8 595.0)" fill="#ffffff"/>
<ellipse cx="1015.6" cy="623.0" rx="6.6" ry="11.9" transform="rotate(25 1015.6 623.0)" fill="#fafafa"/>
<ellipse cx="798.2" cy="658.0" rx="4.2" ry="7.0" transform="rotate(25 798.2 658.0)" fill="#ffffff"/>
<ellipse cx="789.1" cy="678.9" rx="3.1" ry="6.3" transform="rotate(15 789.1 678.9)" fill="#f0f0f0"/>
<ellipse cx="1045.0" cy="509.7" rx="2.8" ry="9.1" transform="rotate(25 1045.0 509.7)" fill="#1f1f1f"/>
</g>
</g></g>
<path d="M839.6,692.7 H1020.8" stroke="#fff" stroke-width="2.6" fill="none"/><path d="M840.4,689.9000000000001 V695.5 M1020.0,689.9000000000001 V695.5" stroke="#fff" stroke-width="1.6" fill="none"/><text x="933" y="686.2" font-size="30" fill="#fff" stroke="#fff" stroke-width="0.5" text-anchor="middle" textLength="63" lengthAdjust="spacingAndGlyphs">5 µm</text>
<linearGradient id="cb2" x1="0" y1="0" x2="0" y2="1"><stop offset="0.0000" stop-color="#fde725"/><stop offset="0.0625" stop-color="#d8e219"/><stop offset="0.1250" stop-color="#addc30"/><stop offset="0.1875" stop-color="#84d44b"/><stop offset="0.2500" stop-color="#5ec962"/><stop offset="0.3125" stop-color="#3fbc73"/><stop offset="0.3750" stop-color="#28ae80"/><stop offset="0.4375" stop-color="#1fa088"/><stop offset="0.5000" stop-color="#21918c"/><stop offset="0.5625" stop-color="#26828e"/><stop offset="0.6250" stop-color="#2c728e"/><stop offset="0.6875" stop-color="#33638d"/><stop offset="0.7500" stop-color="#3b528b"/><stop offset="0.8125" stop-color="#424086"/><stop offset="0.8750" stop-color="#472d7b"/><stop offset="0.9375" stop-color="#48186a"/><stop offset="1.0000" stop-color="#440154"/></linearGradient><rect x="1063.6" y="473.4" width="31.7" height="240.89999999999998" fill="url(#cb2)"/><path d="M1063.6,714.3 V473.4 H1095.3" fill="none" stroke="#222" stroke-width="0.9"/><path d="M1095.3,473.4 V714.3" fill="none" stroke="#000" stroke-width="0.9"/><path d="M1063.6,714.5 H1097.3" fill="none" stroke="#000" stroke-width="1.2"/>
<path d="M1095.3,473.4 h2.2" stroke="#000" stroke-width="0.9"/>
<path d="M1095.3,520.6 h2.2" stroke="#000" stroke-width="0.9"/>
<path d="M1095.3,617.6 h2.2" stroke="#000" stroke-width="0.9"/>
<path d="M1095.3,714.3 h2.2" stroke="#000" stroke-width="0.9"/>
<text x="1097.3" y="499.1" font-size="30.2" text-anchor="start" stroke="#fff" stroke-width="0.4" textLength="101.5" lengthAdjust="spacingAndGlyphs">1.24 µm</text>
<text x="1097.5" y="546.4" font-size="30.2" text-anchor="start" stroke="#fff" stroke-width="0.4" textLength="53.6" lengthAdjust="spacingAndGlyphs">1.00</text>
<text x="1097.5" y="643.6" font-size="30.2" text-anchor="start" stroke="#fff" stroke-width="0.4" textLength="53.6" lengthAdjust="spacingAndGlyphs">0.50</text>
<text x="1097.5" y="707.8" font-size="30.2" text-anchor="start" stroke="#fff" stroke-width="0.4" textLength="53.6" lengthAdjust="spacingAndGlyphs">0.00</text>
<defs>
<linearGradient id="hg" gradientUnits="userSpaceOnUse" x1="0" y1="90" x2="0" y2="640"><stop offset="0.0000" stop-color="#e2dc14"/><stop offset="0.0727" stop-color="#e2d012"/><stop offset="0.1455" stop-color="#e2c010"/><stop offset="0.2182" stop-color="#e2ae10"/><stop offset="0.2909" stop-color="#e49e10"/><stop offset="0.3818" stop-color="#e68e10"/><stop offset="0.4727" stop-color="#e8800f"/><stop offset="0.5636" stop-color="#e86e0f"/><stop offset="0.6545" stop-color="#e8540f"/><stop offset="0.7455" stop-color="#e6400e"/><stop offset="0.8364" stop-color="#e4300e"/><stop offset="0.9273" stop-color="#e2220e"/><stop offset="1.0000" stop-color="#e0180e"/></linearGradient>
<linearGradient id="sh" x1="0.28" y1="0.85" x2="0.72" y2="0.08"><stop offset="0" stop-color="#3a2600" stop-opacity="0"/><stop offset="0.30" stop-color="#3a2600" stop-opacity="0.03"/><stop offset="0.52" stop-color="#3a2600" stop-opacity="0.26"/><stop offset="1" stop-color="#3a2600" stop-opacity="0.50"/></linearGradient>
<linearGradient id="rd" gradientUnits="userSpaceOnUse" x1="0" y1="90" x2="0" y2="640"><stop offset="0" stop-color="#c82000" stop-opacity="0"/><stop offset="0.3" stop-color="#c82000" stop-opacity="0.06"/><stop offset="0.5" stop-color="#d01c00" stop-opacity="0.22"/><stop offset="0.8" stop-color="#d01800" stop-opacity="0.25"/><stop offset="1" stop-color="#d01800" stop-opacity="0.2"/></linearGradient>
<radialGradient id="rim" cx="0.46" cy="0.54" r="0.56"><stop offset="0.78" stop-color="#402000" stop-opacity="0"/><stop offset="1" stop-color="#402000" stop-opacity="0.38"/></radialGradient>
<filter id="spk" x="0" y="0" width="1" height="1" color-interpolation-filters="sRGB"><feTurbulence type="fractalNoise" baseFrequency="0.6" numOctaves="2" seed="11" result="n"/><feColorMatrix in="n" type="matrix" values="0 0 0 0 0  0 0 0 0 0  0 0 0 0 0  5 0 0 0 -2" result="na"/><feComposite in="SourceGraphic" in2="na" operator="in" result="sp"/><feComposite in="sp" in2="SourceGraphic" operator="arithmetic" k1="0" k2="0.9" k3="0.62" k4="0"/></filter>
<clipPath id="cs"><rect x="1362" y="60" width="350" height="600"/></clipPath>
</defs>
<g clip-path="url(#cs)">
<path d="M1362.3,584.5 L1456,500 L1710,523.9 L1616.2,624.3 Z" fill="#860c0a"/>
<path d="M1362.3,584.2 L1616.2,623.9 L1616.2,632.4 L1362.3,592.2 Z" fill="#e6120c"/>
<path d="M1615.8,624.3 L1710,523.5 L1710,530.5 L1615.8,632.4 Z" fill="#5c0a08"/>
<clipPath id="hc1"><rect x="1680" y="398" width="32" height="66"/></clipPath><g transform="rotate(0 1712 431)"><g clip-path="url(#hc1)"><ellipse cx="1712" cy="431" rx="30" ry="31" fill="url(#hg)"/><ellipse cx="1712" cy="431" rx="30" ry="31" fill="url(#sh)" filter="url(#spk)"/></g><ellipse cx="1712" cy="431" rx="11" ry="31" fill="#4a1908"/></g>
<clipPath id="hc2"><rect x="1694" y="467" width="18" height="54"/></clipPath><g transform="rotate(0 1712 494)"><g clip-path="url(#hc2)"><ellipse cx="1712" cy="494" rx="16" ry="25" fill="url(#hg)"/><ellipse cx="1712" cy="494" rx="16" ry="25" fill="url(#sh)" filter="url(#spk)"/></g><ellipse cx="1712" cy="494" rx="12" ry="25" fill="#4a1308"/></g>
<clipPath id="hc3"><rect x="1657.3" y="269.5" width="39" height="64"/></clipPath><g transform="rotate(8 1696.3 301.5)"><g clip-path="url(#hc3)"><ellipse cx="1696.3" cy="301.5" rx="37" ry="30" fill="url(#hg)"/><ellipse cx="1696.3" cy="301.5" rx="37" ry="30" fill="url(#sh)" filter="url(#spk)"/></g><ellipse cx="1696.3" cy="301.5" rx="10" ry="30" fill="#4a2508"/></g>
<ellipse cx="1686.8" cy="259.5" rx="9.5" ry="24.5" transform="rotate(11 1686.8 259.5)" fill="url(#hg)"/>
<ellipse cx="1690.2" cy="259" rx="8" ry="23.5" transform="rotate(11 1690.2 259)" fill="#4a2908"/>
<clipPath id="hc4"><rect x="1648.3" y="331.5" width="36" height="70"/></clipPath><g transform="rotate(8 1684.3 366.5)"><g clip-path="url(#hc4)"><ellipse cx="1684.3" cy="366.5" rx="34" ry="33" fill="url(#hg)"/><ellipse cx="1684.3" cy="366.5" rx="34" ry="33" fill="url(#sh)" filter="url(#spk)"/></g><ellipse cx="1684.3" cy="366.5" rx="11.7" ry="33" fill="#4a1f08"/></g>
<g><ellipse cx="1667" cy="420" rx="25" ry="25" fill="url(#hg)"/><ellipse cx="1667" cy="420" rx="25" ry="25" fill="url(#rd)"/><ellipse cx="1667" cy="420" rx="25" ry="25" fill="url(#sh)" filter="url(#spk)"/><ellipse cx="1667" cy="420" rx="25" ry="25" fill="url(#rim)"/></g>
<ellipse cx="1666.4" cy="420" rx="6.5" ry="18" transform="rotate(5 1666.4 420)" fill="#4a1a08"/>
<g><ellipse cx="1628" cy="508" rx="26" ry="26" fill="url(#hg)"/><ellipse cx="1628" cy="508" rx="26" ry="26" fill="url(#rd)"/><ellipse cx="1628" cy="508" rx="26" ry="26" fill="url(#sh)" filter="url(#spk)"/><ellipse cx="1628" cy="508" rx="26" ry="26" fill="url(#rim)"/></g>
<clipPath id="hc5"><rect x="1629.6" y="457" width="42" height="72"/></clipPath><g transform="rotate(6 1671.6 493)"><g clip-path="url(#hc5)"><ellipse cx="1671.6" cy="493" rx="40" ry="34" fill="url(#hg)"/><ellipse cx="1671.6" cy="493" rx="40" ry="34" fill="url(#sh)" filter="url(#spk)"/></g><ellipse cx="1671.6" cy="493" rx="12.5" ry="34" fill="#4a1308"/></g>
<ellipse cx="1651.6" cy="543.3" rx="6.5" ry="19" transform="rotate(5 1651.6 543.3)" fill="#4a0f08"/>
<g><ellipse cx="1566" cy="203" rx="28" ry="28" fill="url(#hg)"/><ellipse cx="1566" cy="203" rx="28" ry="28" fill="url(#rd)"/><ellipse cx="1566" cy="203" rx="28" ry="28" fill="url(#sh)" filter="url(#spk)"/><ellipse cx="1566" cy="203" rx="28" ry="28" fill="url(#rim)"/></g>
<g><ellipse cx="1457.7" cy="221.6" rx="32" ry="32" fill="url(#hg)"/><ellipse cx="1457.7" cy="221.6" rx="32" ry="32" fill="url(#rd)"/><ellipse cx="1457.7" cy="221.6" rx="32" ry="32" fill="url(#sh)" filter="url(#spk)"/><ellipse cx="1457.7" cy="221.6" rx="32" ry="32" fill="url(#rim)"/></g>
<g><ellipse cx="1460.8" cy="193.9" rx="30" ry="30" fill="url(#hg)"/><ellipse cx="1460.8" cy="193.9" rx="30" ry="30" fill="url(#rd)"/><ellipse cx="1460.8" cy="193.9" rx="30" ry="30" fill="url(#sh)" filter="url(#spk)"/><ellipse cx="1460.8" cy="193.9" rx="30" ry="30" fill="url(#rim)"/></g>
<g><ellipse cx="1446" cy="158.5" rx="33" ry="33" fill="url(#hg)"/><ellipse cx="1446" cy="158.5" rx="33" ry="33" fill="url(#rd)"/><ellipse cx="1446" cy="158.5" rx="33" ry="33" fill="url(#sh)" filter="url(#spk)"/><ellipse cx="1446" cy="158.5" rx="33" ry="33" fill="url(#rim)"/></g>
<g><ellipse cx="1445.4" cy="130.8" rx="33.2" ry="33.2" fill="url(#hg)"/><ellipse cx="1445.4" cy="130.8" rx="33.2" ry="33.2" fill="url(#rd)"/><ellipse cx="1445.4" cy="130.8" rx="33.2" ry="33.2" fill="url(#sh)" filter="url(#spk)"/><ellipse cx="1445.4" cy="130.8" rx="33.2" ry="33.2" fill="url(#rim)"/></g>
<g><ellipse cx="1622.4" cy="264.7" rx="32" ry="32" fill="url(#hg)"/><ellipse cx="1622.4" cy="264.7" rx="32" ry="32" fill="url(#rd)"/><ellipse cx="1622.4" cy="264.7" rx="32" ry="32" fill="url(#sh)" filter="url(#spk)"/><ellipse cx="1622.4" cy="264.7" rx="32" ry="32" fill="url(#rim)"/></g>
<g><ellipse cx="1622.4" cy="218.5" rx="33" ry="33" fill="url(#hg)"/><ellipse cx="1622.4" cy="218.5" rx="33" ry="33" fill="url(#rd)"/><ellipse cx="1622.4" cy="218.5" rx="33" ry="33" fill="url(#sh)" filter="url(#spk)"/><ellipse cx="1622.4" cy="218.5" rx="33" ry="33" fill="url(#rim)"/></g>
<g><ellipse cx="1591.5" cy="181.5" rx="33.5" ry="33.5" fill="url(#hg)"/><ellipse cx="1591.5" cy="181.5" rx="33.5" ry="33.5" fill="url(#rd)"/><ellipse cx="1591.5" cy="181.5" rx="33.5" ry="33.5" fill="url(#sh)" filter="url(#spk)"/><ellipse cx="1591.5" cy="181.5" rx="33.5" ry="33.5" fill="url(#rim)"/></g>
<g><ellipse cx="1559" cy="156.5" rx="33" ry="33" fill="url(#hg)"/><ellipse cx="1559" cy="156.5" rx="33" ry="33" fill="url(#rd)"/><ellipse cx="1559" cy="156.5" rx="33" ry="33" fill="url(#sh)" filter="url(#spk)"/><ellipse cx="1559" cy="156.5" rx="33" ry="33" fill="url(#rim)"/></g>
<g><ellipse cx="1509.1" cy="123.1" rx="33" ry="33" fill="url(#hg)"/><ellipse cx="1509.1" cy="123.1" rx="33" ry="33" fill="url(#rd)"/><ellipse cx="1509.1" cy="123.1" rx="33" ry="33" fill="url(#sh)" filter="url(#spk)"/><ellipse cx="1509.1" cy="123.1" rx="33" ry="33" fill="url(#rim)"/></g>
<g><ellipse cx="1573.8" cy="116.9" rx="34" ry="34" fill="url(#hg)"/><ellipse cx="1573.8" cy="116.9" rx="34" ry="34" fill="url(#rd)"/><ellipse cx="1573.8" cy="116.9" rx="34" ry="34" fill="url(#sh)" filter="url(#spk)"/><ellipse cx="1573.8" cy="116.9" rx="34" ry="34" fill="url(#rim)"/></g>
<g><ellipse cx="1518.7" cy="195.4" rx="34" ry="34" fill="url(#hg)"/><ellipse cx="1518.7" cy="195.4" rx="34" ry="34" fill="url(#rd)"/><ellipse cx="1518.7" cy="195.4" rx="34" ry="34" fill="url(#sh)" filter="url(#spk)"/><ellipse cx="1518.7" cy="195.4" rx="34" ry="34" fill="url(#rim)"/></g>
<g><ellipse cx="1510" cy="267.8" rx="33" ry="33" fill="url(#hg)"/><ellipse cx="1510" cy="267.8" rx="33" ry="33" fill="url(#rd)"/><ellipse cx="1510" cy="267.8" rx="33" ry="33" fill="url(#sh)" filter="url(#spk)"/><ellipse cx="1510" cy="267.8" rx="33" ry="33" fill="url(#rim)"/></g>
<g><ellipse cx="1560.8" cy="249.3" rx="34" ry="34" fill="url(#hg)"/><ellipse cx="1560.8" cy="249.3" rx="34" ry="34" fill="url(#rd)"/><ellipse cx="1560.8" cy="249.3" rx="34" ry="34" fill="url(#sh)" filter="url(#spk)"/><ellipse cx="1560.8" cy="249.3" rx="34" ry="34" fill="url(#rim)"/></g>
<g><ellipse cx="1625.5" cy="338" rx="32" ry="32" fill="url(#hg)"/><ellipse cx="1625.5" cy="338" rx="32" ry="32" fill="url(#rd)"/><ellipse cx="1625.5" cy="338" rx="32" ry="32" fill="url(#sh)" filter="url(#spk)"/><ellipse cx="1625.5" cy="338" rx="32" ry="32" fill="url(#rim)"/></g>
<g><ellipse cx="1634.7" cy="295.5" rx="33" ry="33" fill="url(#hg)"/><ellipse cx="1634.7" cy="295.5" rx="33" ry="33" fill="url(#rd)"/><ellipse cx="1634.7" cy="295.5" rx="33" ry="33" fill="url(#sh)" filter="url(#spk)"/><ellipse cx="1634.7" cy="295.5" rx="33" ry="33" fill="url(#rim)"/></g>
<g><ellipse cx="1571.6" cy="309.2" rx="34" ry="34" fill="url(#hg)"/><ellipse cx="1571.6" cy="309.2" rx="34" ry="34" fill="url(#rd)"/><ellipse cx="1571.6" cy="309.2" rx="34" ry="34" fill="url(#sh)" filter="url(#spk)"/><ellipse cx="1571.6" cy="309.2" rx="34" ry="34" fill="url(#rim)"/></g>
<g><ellipse cx="1465.4" cy="278" rx="34" ry="34" fill="url(#hg)"/><ellipse cx="1465.4" cy="278" rx="34" ry="34" fill="url(#rd)"/><ellipse cx="1465.4" cy="278" rx="34" ry="34" fill="url(#sh)" filter="url(#spk)"/><ellipse cx="1465.4" cy="278" rx="34" ry="34" fill="url(#rim)"/></g>
<g><ellipse cx="1486" cy="408" rx="22" ry="22" fill="url(#hg)"/><ellipse cx="1486" cy="408" rx="22" ry="22" fill="url(#rd)"/><ellipse cx="1486" cy="408" rx="22" ry="22" fill="url(#sh)" filter="url(#spk)"/><ellipse cx="1486" cy="408" rx="22" ry="22" fill="url(#rim)"/></g>
<g><ellipse cx="1426" cy="443" rx="21" ry="21" fill="url(#hg)"/><ellipse cx="1426" cy="443" rx="21" ry="21" fill="url(#rd)"/><ellipse cx="1426" cy="443" rx="21" ry="21" fill="url(#sh)" filter="url(#spk)"/><ellipse cx="1426" cy="443" rx="21" ry="21" fill="url(#rim)"/></g>
<g><ellipse cx="1430" cy="392" rx="27" ry="27" fill="url(#hg)"/><ellipse cx="1430" cy="392" rx="27" ry="27" fill="url(#rd)"/><ellipse cx="1430" cy="392" rx="27" ry="27" fill="url(#sh)" filter="url(#spk)"/><ellipse cx="1430" cy="392" rx="27" ry="27" fill="url(#rim)"/></g>
<g><ellipse cx="1456" cy="381.6" rx="33" ry="33" fill="url(#hg)"/><ellipse cx="1456" cy="381.6" rx="33" ry="33" fill="url(#rd)"/><ellipse cx="1456" cy="381.6" rx="33" ry="33" fill="url(#sh)" filter="url(#spk)"/><ellipse cx="1456" cy="381.6" rx="33" ry="33" fill="url(#rim)"/></g>
<g><ellipse cx="1427" cy="331" rx="34" ry="34" fill="url(#hg)"/><ellipse cx="1427" cy="331" rx="34" ry="34" fill="url(#rd)"/><ellipse cx="1427" cy="331" rx="34" ry="34" fill="url(#sh)" filter="url(#spk)"/><ellipse cx="1427" cy="331" rx="34" ry="34" fill="url(#rim)"/></g>
<g><ellipse cx="1520.5" cy="393.5" rx="32" ry="32" fill="url(#hg)"/><ellipse cx="1520.5" cy="393.5" rx="32" ry="32" fill="url(#rd)"/><ellipse cx="1520.5" cy="393.5" rx="32" ry="32" fill="url(#sh)" filter="url(#spk)"/><ellipse cx="1520.5" cy="393.5" rx="32" ry="32" fill="url(#rim)"/></g>
<g><ellipse cx="1510" cy="337" rx="33" ry="33" fill="url(#hg)"/><ellipse cx="1510" cy="337" rx="33" ry="33" fill="url(#rd)"/><ellipse cx="1510" cy="337" rx="33" ry="33" fill="url(#sh)" filter="url(#spk)"/><ellipse cx="1510" cy="337" rx="33" ry="33" fill="url(#rim)"/></g>
<ellipse cx="1531.3" cy="360.8" rx="32.5" ry="30.5" transform="rotate(40 1531.3 360.8)" fill="url(#hg)"/>
<g><ellipse cx="1636.5" cy="391" rx="32" ry="32" fill="url(#hg)"/><ellipse cx="1636.5" cy="391" rx="32" ry="32" fill="url(#rd)"/><ellipse cx="1636.5" cy="391" rx="32" ry="32" fill="url(#sh)" filter="url(#spk)"/><ellipse cx="1636.5" cy="391" rx="32" ry="32" fill="url(#rim)"/></g>
<g><ellipse cx="1577" cy="413" rx="33" ry="33" fill="url(#hg)"/><ellipse cx="1577" cy="413" rx="33" ry="33" fill="url(#rd)"/><ellipse cx="1577" cy="413" rx="33" ry="33" fill="url(#sh)" filter="url(#spk)"/><ellipse cx="1577" cy="413" rx="33" ry="33" fill="url(#rim)"/></g>
<g><ellipse cx="1620.8" cy="456" rx="34" ry="34" fill="url(#hg)"/><ellipse cx="1620.8" cy="456" rx="34" ry="34" fill="url(#rd)"/><ellipse cx="1620.8" cy="456" rx="34" ry="34" fill="url(#sh)" filter="url(#spk)"/><ellipse cx="1620.8" cy="456" rx="34" ry="34" fill="url(#rim)"/></g>
<g><ellipse cx="1457" cy="446.5" rx="31.5" ry="31.5" fill="url(#hg)"/><ellipse cx="1457" cy="446.5" rx="31.5" ry="31.5" fill="url(#rd)"/><ellipse cx="1457" cy="446.5" rx="31.5" ry="31.5" fill="url(#sh)" filter="url(#spk)"/><ellipse cx="1457" cy="446.5" rx="31.5" ry="31.5" fill="url(#rim)"/></g>
<g><ellipse cx="1527.5" cy="453.5" rx="33.5" ry="33.5" fill="url(#hg)"/><ellipse cx="1527.5" cy="453.5" rx="33.5" ry="33.5" fill="url(#rd)"/><ellipse cx="1527.5" cy="453.5" rx="33.5" ry="33.5" fill="url(#sh)" filter="url(#spk)"/><ellipse cx="1527.5" cy="453.5" rx="33.5" ry="33.5" fill="url(#rim)"/></g>
<ellipse cx="1540.7" cy="420.7" rx="21" ry="21" transform="rotate(0 1540.7 420.7)" fill="url(#hg)"/>
<g><ellipse cx="1576" cy="495.5" rx="34" ry="34" fill="url(#hg)"/><ellipse cx="1576" cy="495.5" rx="34" ry="34" fill="url(#rd)"/><ellipse cx="1576" cy="495.5" rx="34" ry="34" fill="url(#sh)" filter="url(#spk)"/><ellipse cx="1576" cy="495.5" rx="34" ry="34" fill="url(#rim)"/></g>
<g><ellipse cx="1522" cy="491.6" rx="30" ry="30" fill="url(#hg)"/><ellipse cx="1522" cy="491.6" rx="30" ry="30" fill="url(#rd)"/><ellipse cx="1522" cy="491.6" rx="30" ry="30" fill="url(#sh)" filter="url(#spk)"/><ellipse cx="1522" cy="491.6" rx="30" ry="30" fill="url(#rim)"/></g>
<g><ellipse cx="1421" cy="493" rx="33" ry="33" fill="url(#hg)"/><ellipse cx="1421" cy="493" rx="33" ry="33" fill="url(#rd)"/><ellipse cx="1421" cy="493" rx="33" ry="33" fill="url(#sh)" filter="url(#spk)"/><ellipse cx="1421" cy="493" rx="33" ry="33" fill="url(#rim)"/></g>
<g><ellipse cx="1426" cy="517" rx="28" ry="28" fill="url(#hg)"/><ellipse cx="1426" cy="517" rx="28" ry="28" fill="url(#rd)"/><ellipse cx="1426" cy="517" rx="28" ry="28" fill="url(#sh)" filter="url(#spk)"/><ellipse cx="1426" cy="517" rx="28" ry="28" fill="url(#rim)"/></g>
<g><ellipse cx="1475.5" cy="537" rx="31.5" ry="31.5" fill="url(#hg)"/><ellipse cx="1475.5" cy="537" rx="31.5" ry="31.5" fill="url(#rd)"/><ellipse cx="1475.5" cy="537" rx="31.5" ry="31.5" fill="url(#sh)" filter="url(#spk)"/><ellipse cx="1475.5" cy="537" rx="31.5" ry="31.5" fill="url(#rim)"/></g>
<g><ellipse cx="1464.5" cy="491" rx="32" ry="32" fill="url(#hg)"/><ellipse cx="1464.5" cy="491" rx="32" ry="32" fill="url(#rd)"/><ellipse cx="1464.5" cy="491" rx="32" ry="32" fill="url(#sh)" filter="url(#spk)"/><ellipse cx="1464.5" cy="491" rx="32" ry="32" fill="url(#rim)"/></g>
<ellipse cx="1462.3" cy="493" rx="32" ry="32" transform="rotate(0 1462.3 493)" fill="url(#hg)"/>
<ellipse cx="1565.4" cy="519.3" rx="21" ry="21" transform="rotate(0 1565.4 519.3)" fill="url(#hg)"/>
<ellipse cx="1517.7" cy="519.3" rx="32" ry="32" transform="rotate(0 1517.7 519.3)" fill="url(#hg)"/>
<g><ellipse cx="1569" cy="574" rx="32" ry="32" fill="url(#hg)"/><ellipse cx="1569" cy="574" rx="32" ry="32" fill="url(#rd)"/><ellipse cx="1569" cy="574" rx="32" ry="32" fill="url(#sh)" filter="url(#spk)"/><ellipse cx="1569" cy="574" rx="32" ry="32" fill="url(#rim)"/></g>
<ellipse cx="1525.4" cy="579" rx="25.5" ry="25.5" transform="rotate(0 1525.4 579)" fill="url(#hg)"/>
<ellipse cx="1560.3" cy="583.9" rx="27" ry="27" transform="rotate(0 1560.3 583.9)" fill="url(#hg)"/>
<path d="M1616,496 A26,32 0 0 0 1616,560 Z" fill="url(#hg)"/>
<path d="M1616,496 A12,32 0 0 1 1616,560 Z" fill="#4a1008"/>
<path d="M1616,562 A15,28 0 0 0 1616,618 Z" fill="url(#hg)"/>
<path d="M1616,562 A13.3,28 0 0 1 1616,618 Z" fill="#4a0e08"/>
<g><ellipse cx="1379" cy="486.5" rx="24" ry="32" fill="url(#hg)"/><ellipse cx="1379" cy="486.5" rx="24" ry="32" fill="url(#rd)"/><ellipse cx="1379" cy="486.5" rx="24" ry="32" fill="url(#sh)" filter="url(#spk)"/><ellipse cx="1379" cy="486.5" rx="24" ry="32" fill="url(#rim)"/></g>
<ellipse cx="1376" cy="488.5" rx="24" ry="32" transform="rotate(0 1376 488.5)" fill="url(#hg)"/>
<g><ellipse cx="1383.5" cy="550.5" rx="34" ry="32.5" fill="url(#hg)"/><ellipse cx="1383.5" cy="550.5" rx="34" ry="32.5" fill="url(#rd)"/><ellipse cx="1383.5" cy="550.5" rx="34" ry="32.5" fill="url(#sh)" filter="url(#spk)"/><ellipse cx="1383.5" cy="550.5" rx="34" ry="32.5" fill="url(#rim)"/></g>
<ellipse cx="1380" cy="553" rx="34" ry="32.5" transform="rotate(0 1380 553)" fill="url(#hg)"/>
</g>
</svg>
</body></html>
